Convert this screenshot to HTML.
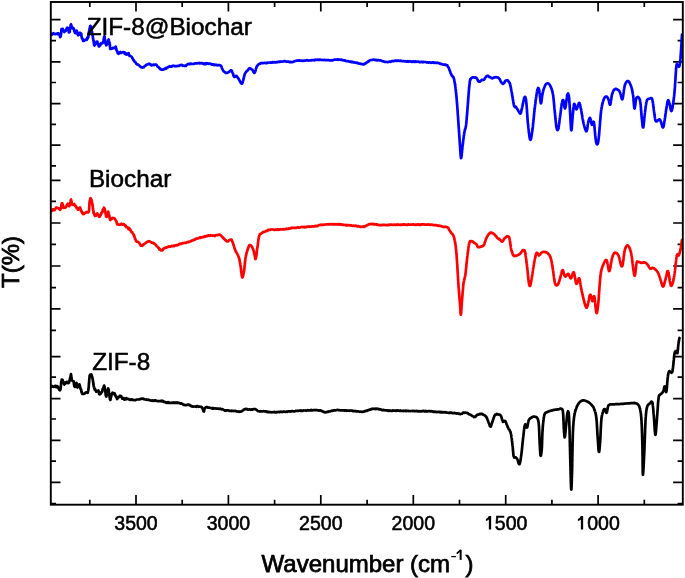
<!DOCTYPE html>
<html><head><meta charset="utf-8"><style>
html,body{margin:0;padding:0;background:#fff;}
body{width:685px;height:578px;overflow:hidden;font-family:"Liberation Sans",sans-serif;}
svg{display:block;will-change:transform;}
</style></head><body>
<svg width="685" height="578" viewBox="0 0 685 578"><defs><clipPath id="c"><rect x="50.8" y="2.0" width="632.0" height="502.7"/></clipPath></defs><path d="M50.8 19.6H60.5M682.8 19.6H673.1M50.8 40.7H56.0M682.8 40.7H677.6M50.8 61.8H60.5M682.8 61.8H673.1M50.8 82.5H56.0M682.8 82.5H677.6M50.8 103.6H60.5M682.8 103.6H673.1M50.8 124.4H56.0M682.8 124.4H677.6M50.8 145.2H60.5M682.8 145.2H673.1M50.8 165.9H56.0M682.8 165.9H677.6M50.8 180.3H60.5M682.8 180.3H673.1M50.8 201.4H56.0M682.8 201.4H677.6M50.8 223.0H60.5M682.8 223.0H673.1M50.8 244.3H56.0M682.8 244.3H677.6M50.8 266.0H60.5M682.8 266.0H673.1M50.8 287.6H56.0M682.8 287.6H677.6M50.8 308.9H60.5M682.8 308.9H673.1M50.8 330.4H56.0M682.8 330.4H677.6M50.8 356.7H60.5M682.8 356.7H673.1M50.8 377.1H56.0M682.8 377.1H677.6M50.8 398.7H60.5M682.8 398.7H673.1M50.8 419.0H56.0M682.8 419.0H677.6M50.8 440.3H60.5M682.8 440.3H673.1M50.8 461.2H56.0M682.8 461.2H677.6M50.8 482.3H60.5M682.8 482.3H673.1M50.8 503.6H56.0M682.8 503.6H677.6M89.8 504.7V499.7M89.8 2.0V7.0M136.0 504.7V495.1M136.0 2.0V11.6M182.2 504.7V499.7M182.2 2.0V7.0M228.4 504.7V495.1M228.4 2.0V11.6M274.6 504.7V499.7M274.6 2.0V7.0M320.8 504.7V495.1M320.8 2.0V11.6M367.1 504.7V499.7M367.1 2.0V7.0M413.3 504.7V495.1M413.3 2.0V11.6M459.5 504.7V499.7M459.5 2.0V7.0M505.7 504.7V495.1M505.7 2.0V11.6M551.9 504.7V499.7M551.9 2.0V7.0M598.1 504.7V495.1M598.1 2.0V11.6M644.3 504.7V499.7M644.3 2.0V7.0" stroke="#000" stroke-width="1.70" fill="none"/>
<g clip-path="url(#c)" fill="none" stroke-width="2.70" stroke-linejoin="round" stroke-linecap="round">
<path d="M50.8 35.0L51.2 34.0L51.7 34.8L52.3 34.2L52.9 33.5L53.6 33.2L54.4 34.0L55.1 34.2L55.8 33.9L56.6 33.9L57.3 33.5L57.9 34.2L58.5 33.4L59.1 34.6L59.6 34.6L60.1 37.1L60.6 36.4L60.7 36.0L60.8 36.1L60.9 34.2L61.0 34.3L61.1 34.0L61.2 32.4L61.3 32.9L61.3 32.1L61.4 29.8L61.5 29.2L61.6 29.6L61.7 29.1L62.8 28.8L63.1 30.1L63.3 29.8L63.6 30.4L63.9 31.4L64.2 32.0L64.7 31.2L65.2 31.1L65.7 30.9L66.0 30.2L66.4 29.5L66.8 28.2L67.1 27.7L67.5 28.0L67.8 27.8L68.0 29.0L68.3 29.6L68.5 30.1L68.8 32.4L69.1 32.4L69.3 32.4L69.4 32.4L69.6 31.2L69.7 32.1L69.8 31.2L69.9 29.2L70.0 28.8L70.2 28.7L70.3 27.8L70.4 27.5L70.5 25.9L70.6 26.0L70.7 25.3L70.8 24.7L71.1 24.3L71.3 25.6L71.6 27.2L71.9 27.3L72.4 28.3L72.9 27.8L73.4 28.4L73.6 29.0L73.8 28.7L74.1 29.8L74.3 31.5L74.5 31.6L74.8 31.8L75.0 32.9L75.2 33.1L75.6 33.2L75.9 32.2L76.3 30.7L76.6 30.6L76.8 30.8L77.0 31.5L77.2 32.7L77.3 33.0L77.5 33.6L77.7 34.4L77.9 34.2L78.1 35.3L78.5 34.3L78.9 34.7L79.2 34.2L79.6 32.8L80.3 32.9L81.0 33.5L81.1 33.7L81.3 33.8L81.4 35.1L81.5 36.6L81.6 36.9L81.8 37.2L81.9 38.3L82.1 38.2L82.4 38.4L82.8 39.6L83.1 40.9L83.5 40.7L83.9 40.8L84.5 40.7L85.1 39.9L85.8 39.7L86.2 39.4L86.7 39.8L87.2 37.7L87.6 38.5L88.0 37.2L88.2 37.3L88.3 36.9L88.4 36.0L88.6 35.4L88.7 34.2L88.8 33.6L88.9 32.6L89.1 31.2L89.2 32.0L89.3 30.9L89.4 30.2L89.6 28.8L89.7 28.5L89.9 27.6L90.0 26.6L90.2 26.0L90.3 25.9L90.5 25.8L90.6 26.2L90.8 26.5L90.9 26.6L91.1 26.4L91.2 27.4L91.4 28.1L91.5 29.6L91.7 30.8L91.9 31.5L92.0 31.7L92.1 32.8L92.2 33.4L92.3 33.0L92.4 34.7L92.5 35.1L92.6 34.7L92.7 35.2L92.8 35.9L92.9 37.9L93.0 37.6L93.1 38.0L93.2 39.5L93.3 39.6L93.4 40.4L93.5 40.5L93.7 41.5L93.8 43.0L93.9 43.1L94.0 44.0L94.2 45.3L94.3 45.2L94.5 45.5L94.8 45.1L95.1 45.0L95.5 43.5L95.8 43.4L96.2 42.8L96.5 41.7L96.7 41.9L97.2 42.0L97.4 41.7L97.6 43.7L97.9 43.7L98.2 43.9L98.5 45.3L98.8 46.3L99.1 45.3L99.4 46.4L99.7 45.4L100.0 45.1L100.3 45.4L100.6 43.7L100.9 43.9L101.2 43.1L101.8 43.3L102.4 43.3L103.0 42.8L103.2 41.9L103.3 42.6L103.4 41.6L103.6 40.3L103.7 38.9L103.8 38.9L104.0 37.7L104.1 37.4L104.2 36.5L104.3 36.6L104.4 36.9L104.6 36.3L104.7 37.3L104.8 39.3L104.9 40.0L105.1 39.8L105.2 40.9L105.3 42.2L105.5 42.0L105.7 43.9L105.8 44.3L106.0 44.3L106.1 44.5L106.3 45.3L106.9 44.2L107.4 43.9L107.6 44.0L107.8 41.7L108.0 42.2L108.1 41.7L108.3 40.3L108.5 39.9L108.7 39.4L109.0 41.1L109.2 41.9L109.4 42.3L109.6 42.8L109.7 43.3L109.8 43.7L109.8 44.3L109.9 44.8L109.9 46.4L110.0 46.7L110.0 47.0L110.1 47.4L110.2 48.9L110.3 49.0L111.0 48.9L111.8 48.6L112.4 48.4L113.0 47.8L113.6 47.9L114.2 48.2L114.8 47.9L115.4 47.2L115.7 46.7L116.0 47.7L116.3 48.6L116.6 50.6L116.9 50.4L117.1 51.6L117.3 51.5L117.5 52.0L117.7 53.4L118.0 53.4L118.5 53.9L119.1 53.5L119.8 52.3L120.4 51.9L121.1 52.9L121.8 52.6L122.4 52.3L123.3 52.1L124.2 52.3L124.6 53.5L125.1 52.7L125.5 54.2L126.0 53.5L126.4 54.5L127.0 53.6L127.6 54.4L128.2 53.4L128.6 53.2L128.9 54.6L129.3 55.0L129.6 56.0L130.0 55.9L130.5 56.1L131.1 56.4L131.6 56.8L132.2 57.7L132.5 58.4L132.8 58.7L133.1 59.6L133.5 60.1L133.8 60.1L134.1 61.0L134.4 61.4L134.8 61.7L135.3 62.2L135.7 62.7L136.2 63.8L136.6 63.9L137.1 64.5L137.7 64.7L138.2 64.6L138.8 65.0L139.2 65.5L139.7 66.1L140.1 66.3L140.6 66.9L141.0 67.2L141.6 67.3L142.2 67.4L142.8 67.6L143.3 67.1L143.8 67.2L144.3 66.4L145.0 65.8L145.5 65.8L146.1 65.0L146.7 64.5L147.3 64.5L147.9 64.3L148.5 63.9L149.1 63.6L149.7 64.3L150.2 64.1L150.8 64.5L151.4 65.4L152.0 65.2L152.7 64.8L153.4 64.7L154.2 65.1L154.9 64.5L155.5 64.6L156.1 64.6L156.6 65.0L157.0 65.6L157.5 66.6L158.1 66.9L158.6 67.0L159.1 68.1L159.6 68.1L160.1 69.0L160.6 69.4L161.1 69.2L161.6 69.6L162.3 69.6L162.9 69.7L163.5 69.2L164.3 69.2L164.8 69.1L165.3 68.4L165.8 68.0L166.4 68.5L167.0 67.6L167.6 67.5L168.1 67.1L168.7 66.9L169.3 66.5L169.9 66.2L170.5 66.7L171.1 66.6L171.7 66.5L172.3 65.8L173.0 66.0L173.6 65.7L174.3 66.0L175.0 66.4L175.8 66.0L176.5 66.2L177.1 66.2L177.8 65.8L178.3 66.0L179.1 65.9L179.7 65.4L180.2 65.1L180.9 65.2L181.4 64.9L182.1 65.1L182.7 65.8L183.4 65.5L184.1 65.8L184.7 65.9L185.3 65.7L185.9 65.9L186.5 65.1L187.0 64.7L187.5 64.3L188.1 64.0L188.8 63.9L189.4 64.1L189.9 64.1L190.5 63.6L191.2 63.7L191.8 63.9L192.5 64.0L193.3 64.0L194.0 63.9L194.6 63.6L195.2 63.4L195.9 63.5L196.6 63.3L197.3 63.5L197.9 63.1L198.6 63.0L199.3 63.3L199.9 63.0L200.5 63.3L201.0 63.1L201.8 63.2L202.5 63.6L203.0 63.2L203.5 63.7L204.0 64.1L204.6 63.9L205.3 63.5L205.8 64.1L206.5 63.2L207.2 63.6L208.1 63.4L208.6 63.9L209.2 63.8L209.8 63.6L210.4 63.6L211.1 64.1L211.8 64.6L212.5 64.3L213.1 64.9L213.8 64.5L214.4 65.2L215.0 65.0L215.8 64.7L216.5 64.9L217.2 65.3L217.9 65.2L218.6 65.2L219.2 65.2L219.8 65.2L220.3 65.3L220.7 65.8L221.1 65.9L221.4 66.7L221.6 67.1L221.9 68.2L222.1 68.8L222.4 69.1L222.7 69.5L223.0 70.3L223.5 71.2L224.0 71.6L224.5 71.8L225.0 72.2L225.5 72.8L226.0 72.7L226.5 72.9L227.2 72.9L227.9 72.6L228.5 72.2L229.1 72.0L229.7 71.1L230.2 71.0L230.7 70.4L231.2 70.3L231.6 70.7L231.9 71.0L232.2 72.0L232.6 72.9L232.8 73.2L233.1 73.9L233.3 74.6L233.5 75.7L233.8 76.0L234.0 76.5L234.3 76.9L234.9 76.9L235.4 76.0L236.1 75.9L236.5 75.9L236.9 76.6L237.3 77.1L237.8 77.8L238.3 78.3L238.7 79.0L239.0 79.7L239.4 80.4L239.7 80.8L240.1 81.7L240.5 82.3L240.8 82.8L241.1 83.3L241.4 83.6L241.8 83.6L242.1 83.5L242.5 82.8L242.8 81.6L243.1 80.8L243.2 80.4L243.4 79.6L243.5 79.0L243.6 78.7L243.8 78.3L243.9 77.2L244.0 76.9L244.2 76.3L244.3 75.4L244.5 75.0L244.7 74.5L244.9 73.8L245.2 73.1L245.6 72.7L246.0 72.2L246.4 71.5L246.9 71.2L247.3 70.7L247.7 70.4L248.1 69.8L248.4 69.4L249.1 68.5L249.5 68.3L250.1 68.5L250.6 68.5L251.1 69.0L251.7 69.5L252.2 69.6L252.7 70.3L253.1 71.0L253.4 71.9L253.8 72.4L254.1 73.0L254.5 72.9L254.7 72.4L254.9 72.4L255.1 71.4L255.3 71.4L255.5 70.6L255.7 69.8L255.9 68.9L256.1 68.5L256.4 67.8L256.6 66.7L256.8 66.5L257.1 65.9L257.6 65.5L258.1 64.8L258.6 64.4L259.1 63.9L259.6 63.9L260.1 63.7L260.6 63.2L261.3 62.9L261.8 63.2L262.5 63.1L263.5 63.1L264.0 62.9L264.5 62.9L265.1 62.8L265.7 63.2L266.4 63.2L267.1 62.6L267.8 62.9L268.5 62.7L269.2 62.5L269.8 62.5L270.5 62.6L271.1 62.4L271.8 62.7L272.4 62.2L273.0 62.2L273.7 62.4L274.3 62.1L275.0 62.4L275.6 62.3L276.2 62.4L276.9 62.0L277.5 62.1L278.1 61.9L278.8 62.0L279.4 61.7L280.1 61.8L280.7 61.5L281.4 61.6L282.0 61.6L282.6 61.5L283.3 61.5L283.9 61.2L284.5 61.2L285.2 61.2L285.8 61.5L286.4 61.6L287.0 61.6L287.7 61.6L288.3 61.7L288.9 61.7L289.5 62.2L290.1 61.9L290.7 62.1L291.3 62.2L291.9 62.0L292.5 62.1L293.1 61.8L293.7 61.7L294.3 61.1L294.9 61.1L295.5 61.0L296.2 60.7L296.8 60.7L297.4 60.7L298.0 60.5L298.6 60.6L299.2 60.3L299.8 60.6L300.4 60.6L301.1 60.6L301.7 60.6L302.4 60.9L303.1 60.8L303.8 60.7L304.4 60.7L305.0 60.7L305.6 60.5L306.2 60.4L306.8 60.2L307.5 60.3L308.1 60.5L308.7 60.6L309.4 60.5L310.0 60.3L310.7 60.5L311.3 60.2L312.0 60.3L312.6 60.1L313.2 60.0L313.8 60.2L314.4 60.3L315.0 59.9L315.6 59.7L316.2 60.0L316.8 59.9L317.5 59.8L318.1 59.5L318.7 59.8L319.3 59.8L320.0 59.7L320.6 60.0L321.3 59.8L321.9 59.9L322.5 60.0L323.1 60.1L323.8 60.0L324.5 59.9L325.2 60.1L325.8 60.1L326.5 60.1L327.2 60.1L327.9 60.0L328.5 60.2L329.2 60.2L329.8 60.4L330.3 60.4L330.9 60.4L331.4 60.4L331.8 60.2L332.9 60.3L333.6 60.0L334.1 59.7L334.6 59.5L335.3 59.5L335.9 59.6L336.5 59.7L337.1 59.5L337.7 59.3L338.4 59.8L339.1 59.6L339.8 59.7L340.6 59.8L341.2 59.6L341.7 60.0L342.3 60.2L342.9 60.2L343.6 60.3L344.2 60.6L344.9 60.3L345.5 60.8L346.2 61.2L346.9 61.2L347.6 61.2L348.2 61.2L348.8 61.5L349.4 61.6L350.0 61.5L350.7 61.6L351.3 62.1L352.0 61.9L352.7 61.9L353.3 62.4L354.0 62.4L354.6 62.4L355.2 62.6L355.8 62.8L356.4 62.8L357.1 62.7L357.8 63.2L358.5 63.4L359.2 63.7L359.9 63.5L360.6 63.9L361.2 63.8L361.8 64.1L362.4 64.0L362.9 64.4L363.4 64.2L364.2 64.3L364.8 63.7L365.4 63.3L365.9 63.3L366.4 62.8L366.9 62.3L367.5 62.1L368.1 61.3L368.6 61.4L369.2 60.9L369.8 60.3L370.4 60.2L371.1 60.0L371.7 60.0L372.3 60.0L373.0 59.6L373.9 59.8L374.4 59.9L374.9 59.7L375.5 60.2L376.1 59.9L376.7 60.3L377.3 60.2L378.0 60.3L378.7 60.1L379.3 60.4L380.0 60.5L380.6 60.4L381.2 60.5L381.7 61.0L382.4 61.0L383.0 61.4L383.6 61.3L384.2 61.7L384.9 61.9L385.5 61.8L386.1 61.8L386.8 62.0L387.4 62.1L388.0 62.1L388.6 61.8L389.1 61.8L389.7 61.6L390.3 61.8L390.9 61.8L391.5 61.2L392.1 61.0L392.7 61.2L393.3 61.1L393.9 61.1L394.6 60.8L395.2 60.7L395.8 60.6L396.3 60.9L396.9 60.5L397.5 60.8L398.1 60.5L398.7 60.7L399.3 60.8L399.9 60.8L400.5 60.7L401.2 60.8L401.8 61.2L402.4 61.1L403.0 61.2L403.6 61.0L404.2 61.2L404.8 61.4L405.4 61.2L406.0 61.3L406.6 61.6L407.2 61.6L407.8 61.1L408.4 61.6L409.0 61.6L409.6 61.3L410.2 61.4L410.8 61.5L411.4 61.8L412.0 61.5L412.6 61.8L413.2 61.6L413.8 61.8L414.4 61.5L415.0 61.9L415.6 61.4L416.2 61.6L416.8 61.9L417.4 61.6L418.0 61.8L418.6 61.7L419.2 61.9L419.8 62.2L420.4 62.2L421.0 61.8L421.6 61.8L422.2 62.1L422.8 62.3L423.4 61.9L424.0 62.0L424.7 62.0L425.3 62.0L425.9 62.0L426.5 62.4L427.2 62.5L427.8 62.4L428.4 62.6L429.0 62.5L429.5 62.3L430.1 62.5L430.7 62.8L431.2 62.5L431.9 62.6L432.6 62.4L433.3 62.3L433.9 62.9L434.5 62.7L435.1 62.6L435.7 62.8L436.3 62.8L436.8 62.9L437.4 62.7L437.9 63.0L438.7 63.1L439.3 63.3L440.0 63.3L440.6 64.0L441.2 63.9L441.8 64.2L442.4 64.3L443.1 64.6L443.7 64.6L444.4 64.7L445.1 64.8L445.8 64.6L446.4 65.2L446.9 65.2L447.3 65.3L447.7 66.4L448.0 66.9L448.3 67.5L448.6 67.5L448.9 68.2L449.2 69.2L449.4 69.9L449.6 70.2L449.9 70.8L450.1 71.8L450.3 71.8L450.5 72.7L450.7 73.3L451.0 73.6L451.2 74.3L451.4 74.9L451.8 75.7L452.2 76.2L452.6 76.0L453.0 76.8L453.4 77.1L453.7 78.2L453.8 78.8L454.0 78.8L454.1 79.2L454.2 79.9L454.3 80.7L454.4 80.9L454.5 81.4L454.6 82.4L454.8 83.1L454.9 83.7L455.0 84.0L455.1 84.8L455.2 85.4L455.3 86.4L455.4 87.2L455.5 87.6L455.5 88.1L455.6 88.9L455.7 89.5L455.7 89.8L455.8 90.0L455.8 90.9L455.9 91.3L456.0 92.2L456.0 92.6L456.1 93.3L456.1 93.8L456.2 94.3L456.3 95.1L456.3 95.7L456.4 96.0L456.5 96.5L456.5 97.3L456.6 98.1L456.6 98.5L456.7 99.3L456.8 100.2L456.8 100.5L456.9 101.8L456.9 102.4L457.0 103.0L457.0 103.4L457.1 103.9L457.1 104.5L457.2 105.0L457.2 105.9L457.3 106.3L457.3 106.9L457.3 107.2L457.4 108.3L457.4 108.5L457.5 109.1L457.5 109.6L457.6 110.8L457.6 111.1L457.7 112.0L457.7 112.7L457.7 113.3L457.8 113.9L457.8 114.6L457.9 115.2L457.9 115.8L458.0 116.0L458.0 116.9L458.1 117.5L458.1 118.5L458.1 119.0L458.2 119.5L458.2 120.2L458.3 120.6L458.3 121.6L458.4 122.0L458.4 122.5L458.4 123.1L458.5 124.1L458.5 124.4L458.6 124.7L458.6 125.5L458.6 125.9L458.7 126.9L458.7 127.5L458.8 128.4L458.8 128.5L458.9 129.4L458.9 130.2L459.0 130.4L459.0 131.1L459.0 132.1L459.1 132.5L459.1 133.1L459.2 133.8L459.2 134.7L459.3 135.3L459.3 135.6L459.4 136.2L459.4 137.4L459.4 137.9L459.5 138.2L459.5 139.3L459.6 139.3L459.6 140.1L459.6 141.1L459.7 141.5L459.7 141.8L459.8 142.8L459.8 143.2L459.8 143.9L459.9 144.4L459.9 144.6L460.0 145.3L460.0 145.7L460.1 146.6L460.1 147.7L460.2 148.4L460.2 149.2L460.3 150.1L460.3 151.1L460.4 151.4L460.4 152.2L460.5 153.4L460.5 154.1L460.6 154.7L460.6 155.3L460.7 155.8L460.8 156.7L460.8 157.1L460.9 157.4L460.9 157.3L461.0 158.1L461.0 158.0L461.1 158.1L461.2 157.8L461.2 157.7L461.3 157.7L461.4 156.9L461.4 156.5L461.5 156.1L461.6 155.9L461.7 155.2L461.7 154.6L461.8 153.5L461.9 152.8L462.0 152.0L462.0 151.1L462.1 150.3L462.2 149.7L462.3 149.0L462.4 147.8L462.4 147.2L462.5 146.2L462.6 145.7L462.7 145.0L462.8 144.5L462.8 143.9L462.9 143.3L463.0 142.9L463.1 141.7L463.2 141.3L463.2 140.9L463.3 140.1L463.4 139.3L463.5 138.5L463.6 137.9L463.7 137.6L463.7 136.9L463.8 136.1L463.9 135.7L464.0 135.1L464.1 134.5L464.2 133.6L464.2 133.2L464.3 132.9L464.4 132.2L464.6 131.3L464.7 130.9L464.9 130.2L465.0 129.6L465.1 129.3L465.3 128.7L465.4 128.4L465.6 127.9L465.7 127.0L465.9 126.3L466.0 125.5L466.1 124.9L466.1 124.9L466.2 124.2L466.2 123.6L466.3 123.6L466.3 122.5L466.4 122.2L466.4 121.8L466.5 121.2L466.5 120.5L466.6 120.1L466.6 119.3L466.7 118.9L466.7 118.1L466.8 117.8L466.8 117.0L466.9 115.9L466.9 115.3L467.0 115.2L467.1 114.1L467.1 113.3L467.2 112.7L467.2 112.2L467.3 111.9L467.3 110.8L467.4 110.4L467.4 109.8L467.5 108.6L467.5 108.3L467.6 107.5L467.6 107.3L467.7 106.4L467.7 105.8L467.8 105.1L467.8 104.9L467.9 104.3L467.9 103.0L468.0 102.7L468.0 101.9L468.1 101.4L468.1 100.4L468.2 99.8L468.2 99.1L468.3 98.6L468.3 98.1L468.4 97.5L468.4 96.8L468.5 96.0L468.5 94.9L468.6 94.5L468.6 94.0L468.7 93.1L468.7 92.6L468.8 92.2L468.8 91.0L468.9 90.9L468.9 89.8L469.0 89.4L469.0 89.2L469.1 88.1L469.1 87.8L469.2 87.2L469.2 87.1L469.3 86.6L469.3 85.7L469.4 85.4L469.4 85.0L469.6 84.0L469.7 82.8L469.8 81.6L469.9 81.3L470.0 80.4L470.2 80.0L470.3 79.2L470.5 79.5L470.7 78.9L470.9 78.8L471.2 78.2L471.7 78.1L472.3 77.4L472.9 77.4L473.6 77.3L474.3 77.5L475.0 77.7L475.6 77.4L476.1 77.8L476.6 78.0L477.0 78.9L477.3 79.4L477.7 79.9L478.0 80.6L478.3 81.4L478.7 81.6L479.2 81.7L479.8 81.7L480.5 81.0L481.1 80.6L481.6 79.9L482.1 79.9L482.9 80.0L483.8 79.9L484.1 79.4L484.5 79.2L484.9 78.3L485.4 77.6L485.8 77.0L486.3 76.5L486.8 76.0L487.3 75.9L487.8 76.0L488.4 75.9L488.9 76.7L489.5 77.0L490.1 77.3L490.6 77.4L491.1 77.9L491.6 78.2L492.4 78.3L493.0 78.0L493.6 77.8L494.2 77.3L494.8 77.5L495.5 77.0L496.1 77.2L496.8 77.3L497.3 77.4L497.8 77.5L498.4 77.8L498.9 78.3L499.4 79.0L499.7 79.2L500.1 80.0L500.4 80.8L500.8 81.4L501.1 82.1L501.4 82.4L501.7 82.8L502.0 83.4L502.9 83.9L503.7 83.4L504.1 83.3L504.5 82.4L504.9 81.4L505.4 80.8L505.8 80.5L506.3 80.4L506.8 80.5L507.3 80.2L507.9 80.5L508.4 81.3L508.9 82.1L509.4 82.5L509.6 82.8L509.7 83.4L509.9 83.8L510.1 84.0L510.2 84.7L510.3 85.2L510.5 85.8L510.6 86.8L510.8 87.4L510.9 87.7L511.0 88.4L511.2 89.7L511.3 90.0L511.5 91.1L511.6 91.5L511.7 92.0L511.8 92.4L511.9 93.0L512.0 93.7L512.1 94.6L512.2 95.7L512.4 96.2L512.5 96.6L512.6 97.6L512.7 98.1L512.8 98.9L512.9 99.5L513.1 100.7L513.2 100.9L513.3 101.9L513.4 102.4L513.5 103.2L513.6 103.6L513.7 104.3L513.8 104.5L513.9 105.2L514.0 105.5L514.1 105.8L514.7 107.0L515.2 106.7L515.8 106.7L516.1 107.1L516.4 107.6L516.7 108.2L517.1 108.8L517.4 109.4L517.8 109.9L518.1 110.5L518.4 111.0L518.9 111.7L519.3 112.5L519.7 113.2L520.1 113.6L520.5 113.6L520.7 113.3L520.9 112.9L521.0 112.5L521.2 111.9L521.3 111.1L521.5 110.2L521.7 109.4L521.9 108.4L522.0 108.0L522.1 107.4L522.3 106.8L522.4 106.2L522.5 105.5L522.7 104.8L522.8 103.9L523.0 103.3L523.1 102.6L523.3 101.8L523.4 101.2L523.6 100.4L523.7 99.9L523.8 99.1L524.0 98.7L524.1 98.2L524.3 97.7L524.4 97.5L524.5 97.2L524.8 96.8L525.0 96.9L525.3 97.0L525.5 97.6L525.7 98.4L526.0 99.8L526.2 101.5L526.2 101.8L526.3 102.3L526.3 102.8L526.4 103.2L526.4 103.6L526.5 104.3L526.5 104.8L526.6 105.3L526.6 105.8L526.7 106.5L526.7 107.2L526.8 107.7L526.8 108.4L526.9 109.0L526.9 109.6L527.0 110.4L527.0 111.0L527.0 111.7L527.1 112.3L527.1 113.1L527.2 113.7L527.2 114.5L527.3 115.1L527.3 115.8L527.4 116.5L527.4 117.2L527.5 117.9L527.5 118.6L527.6 119.2L527.6 120.0L527.7 120.6L527.7 121.2L527.8 121.8L527.8 122.4L527.9 122.9L527.9 123.5L528.0 124.0L528.1 124.7L528.2 125.5L528.2 126.2L528.3 126.9L528.4 127.9L528.5 128.7L528.6 129.3L528.7 130.2L528.7 130.8L528.8 131.6L528.9 132.5L529.0 133.1L529.1 133.6L529.2 134.4L529.3 135.0L529.3 135.6L529.4 136.3L529.5 136.8L529.6 137.4L529.7 137.8L529.8 138.2L529.9 138.5L529.9 139.0L530.0 139.3L530.1 139.4L530.2 139.6L530.4 139.8L530.5 139.8L530.6 139.6L530.8 139.4L530.9 139.0L531.1 138.3L531.2 137.8L531.4 137.0L531.5 136.2L531.7 135.1L531.8 134.3L532.0 133.1L532.1 132.0L532.3 130.9L532.4 130.6L532.4 130.1L532.5 129.6L532.5 129.1L532.6 128.6L532.7 128.0L532.7 127.6L532.8 127.0L532.9 126.3L532.9 125.8L533.0 125.2L533.0 124.6L533.1 124.0L533.2 123.4L533.2 122.6L533.3 122.0L533.4 121.3L533.4 120.6L533.5 119.9L533.6 119.3L533.6 118.7L533.7 118.0L533.8 117.4L533.8 116.6L533.9 115.9L534.0 115.4L534.0 114.7L534.1 114.0L534.2 113.2L534.2 112.6L534.3 112.0L534.4 111.4L534.4 110.8L534.5 110.1L534.6 109.5L534.6 108.8L534.7 108.4L534.8 107.9L534.8 107.3L534.9 106.7L535.0 106.0L535.1 105.2L535.2 104.5L535.3 103.9L535.4 103.2L535.5 102.5L535.5 101.6L535.6 100.9L535.7 100.2L535.8 99.5L535.9 98.9L536.0 98.2L536.1 97.5L536.2 96.9L536.3 96.2L536.4 95.6L536.5 94.9L536.6 94.3L536.7 93.8L536.8 93.1L536.8 92.7L536.9 92.1L537.0 91.7L537.1 91.3L537.2 90.8L537.3 90.5L537.3 90.0L537.4 89.6L537.5 89.4L538.1 88.0L538.7 88.4L539.2 90.3L539.3 90.6L539.4 91.1L539.4 91.7L539.5 92.5L539.6 93.1L539.7 93.8L539.8 94.6L539.8 95.4L539.9 96.3L540.0 97.1L540.1 97.8L540.2 98.7L540.2 99.5L540.3 100.2L540.4 101.0L540.5 101.5L540.6 102.0L540.7 102.6L540.7 103.0L540.8 103.2L540.9 103.3L541.0 103.3L541.1 103.2L541.2 102.8L541.3 102.3L541.4 101.8L541.5 101.2L541.6 100.5L541.7 99.8L541.8 98.9L541.9 98.1L542.0 97.3L542.1 96.4L542.2 95.7L542.3 94.9L542.5 94.1L542.6 93.5L542.7 92.9L542.9 92.3L543.1 91.5L543.2 90.8L543.4 90.1L543.6 89.4L543.8 88.8L544.1 88.0L544.3 87.6L544.5 86.9L544.7 86.5L544.9 85.9L545.1 85.5L545.3 85.1L545.8 84.3L546.3 83.7L546.9 83.5L547.4 83.3L547.9 83.4L548.3 83.5L548.7 83.7L549.1 84.0L549.6 84.6L550.0 85.3L550.4 86.0L550.6 86.4L550.8 86.9L551.0 87.2L551.2 87.8L551.4 88.2L551.5 88.8L551.7 89.3L551.9 90.1L552.1 90.6L552.3 91.3L552.5 92.0L552.7 92.9L552.8 93.7L553.0 94.6L553.1 95.1L553.2 95.6L553.2 96.0L553.3 96.5L553.4 97.3L553.4 97.7L553.5 98.4L553.6 99.1L553.6 99.6L553.7 100.1L553.8 100.9L553.8 101.5L553.9 102.1L554.0 102.7L554.0 103.5L554.1 104.1L554.1 104.9L554.2 105.5L554.3 106.2L554.3 106.8L554.4 107.6L554.4 108.1L554.5 108.9L554.6 109.4L554.6 110.0L554.7 110.6L554.7 111.2L554.8 111.9L554.9 112.6L554.9 113.2L555.0 113.9L555.1 114.6L555.1 115.2L555.2 115.9L555.3 116.6L555.3 117.4L555.4 118.0L555.5 118.7L555.5 119.4L555.6 120.1L555.7 120.7L555.7 121.3L555.8 121.9L555.9 122.7L555.9 123.1L556.0 123.8L556.0 124.3L556.1 124.8L556.2 125.3L556.2 126.0L556.3 126.3L556.4 126.9L556.4 127.2L556.5 127.5L556.9 129.1L557.3 130.1L557.8 130.0L558.2 129.2L558.3 128.9L558.4 128.5L558.5 128.3L558.6 127.7L558.6 127.1L558.7 126.6L558.8 126.0L558.9 125.3L559.0 124.7L559.1 124.2L559.2 123.5L559.3 122.8L559.4 121.9L559.5 121.4L559.5 120.5L559.6 119.9L559.7 119.0L559.8 118.3L559.9 117.8L560.0 117.1L560.1 116.5L560.2 115.8L560.2 115.3L560.3 114.7L560.4 114.0L560.5 113.3L560.6 112.7L560.7 112.0L560.8 111.4L560.8 110.6L560.9 109.9L561.0 109.4L561.1 108.6L561.2 108.1L561.2 107.4L561.3 106.9L561.4 106.2L561.5 105.6L561.6 105.2L561.6 104.6L561.7 104.1L561.8 103.8L562.1 102.5L562.3 101.5L562.5 100.5L562.8 100.2L563.0 100.0L563.3 100.1L563.4 100.4L563.5 100.8L563.7 101.6L563.8 102.3L563.9 103.1L564.0 103.9L564.2 104.9L564.3 105.6L564.4 106.7L564.5 107.2L564.7 107.8L564.8 108.3L565.0 108.5L565.1 108.4L565.2 108.2L565.3 108.0L565.4 107.6L565.5 107.2L565.6 106.6L565.7 106.0L565.8 105.5L565.9 104.6L566.0 103.9L566.1 103.1L566.2 102.3L566.3 101.7L566.4 100.7L566.5 99.9L566.6 99.2L566.7 98.5L566.8 97.9L566.9 97.2L567.0 96.6L567.0 96.0L567.1 95.3L567.2 94.9L567.3 94.7L568.1 93.4L568.8 95.6L568.9 96.0L568.9 96.3L569.0 96.9L569.0 97.2L569.1 97.7L569.1 98.3L569.2 98.7L569.2 99.3L569.2 100.1L569.3 100.5L569.3 101.1L569.4 101.8L569.4 102.6L569.5 103.2L569.5 103.9L569.6 104.6L569.6 105.4L569.7 106.1L569.7 106.8L569.8 107.6L569.8 108.4L569.9 109.1L569.9 109.6L570.0 110.4L570.0 111.1L570.0 111.8L570.1 112.3L570.1 112.8L570.2 113.5L570.2 114.2L570.2 115.0L570.3 115.6L570.3 116.4L570.4 117.3L570.4 118.1L570.4 118.7L570.5 119.6L570.5 120.4L570.6 121.2L570.6 121.9L570.6 122.8L570.7 123.3L570.7 124.0L570.8 124.7L570.8 125.5L570.8 126.0L570.9 126.7L570.9 127.3L571.0 127.8L571.0 128.5L571.0 128.8L571.1 129.3L571.1 129.6L571.2 129.8L571.2 130.2L571.3 130.1L571.3 130.3L571.4 130.4L571.4 130.1L571.5 130.0L571.5 129.8L571.6 129.3L571.6 129.0L571.7 128.4L571.8 128.0L571.8 127.2L571.9 126.6L571.9 125.8L572.0 125.1L572.0 124.4L572.1 123.6L572.2 122.7L572.2 122.0L572.3 121.0L572.3 120.2L572.4 119.5L572.5 118.6L572.5 118.0L572.6 117.2L572.6 116.5L572.7 115.7L572.7 115.1L572.8 114.7L572.9 113.9L573.0 113.2L573.0 112.5L573.1 111.8L573.2 110.9L573.2 110.2L573.3 109.3L573.4 108.5L573.5 107.9L573.5 107.3L573.6 106.7L573.7 106.2L573.8 105.6L573.8 105.0L573.9 104.6L574.0 104.3L574.1 104.0L574.2 103.8L574.4 103.8L574.6 104.2L574.9 104.9L575.1 105.8L575.3 106.8L575.6 107.8L575.9 108.6L576.1 109.1L576.4 109.3L576.6 109.1L576.9 108.8L577.1 108.1L577.4 107.3L577.7 106.4L578.0 105.6L578.2 104.7L578.5 104.0L578.7 103.5L579.0 103.0L579.2 102.9L579.4 103.0L579.6 103.2L579.7 103.6L579.9 104.0L580.0 104.5L580.2 105.1L580.3 105.8L580.5 106.7L580.6 107.4L580.8 108.4L581.0 109.3L581.1 109.6L581.2 110.3L581.3 110.8L581.4 111.3L581.5 111.8L581.6 112.5L581.7 113.2L581.8 113.9L581.9 114.6L582.1 115.1L582.2 115.8L582.3 116.5L582.4 117.4L582.5 118.0L582.6 118.5L582.8 119.3L582.9 120.0L583.0 120.6L583.1 121.1L583.2 121.9L583.4 122.4L583.5 122.8L583.6 123.5L583.7 123.9L583.9 124.7L584.1 125.6L584.4 126.4L584.6 127.2L584.8 128.0L585.0 128.7L585.3 129.3L585.5 130.0L585.7 130.3L585.9 130.7L586.1 131.2L586.3 131.2L586.5 131.2L586.6 131.1L586.8 130.8L586.9 130.3L587.1 129.8L587.2 129.1L587.3 128.4L587.4 127.8L587.5 127.0L587.6 126.2L587.7 125.2L587.8 124.6L588.0 123.7L588.1 123.1L588.2 122.5L588.3 122.0L588.6 120.9L588.8 120.1L589.1 119.4L589.3 118.8L589.6 118.2L589.8 117.9L590.1 118.0L590.3 118.3L590.4 118.7L590.6 119.3L590.8 120.1L590.9 120.8L591.1 121.6L591.2 122.5L591.4 123.2L591.6 124.0L591.7 124.5L591.9 124.8L592.3 124.6L592.7 123.5L593.0 122.3L593.4 121.6L593.8 122.0L593.9 122.2L593.9 122.6L594.0 123.0L594.1 123.4L594.1 124.0L594.2 124.6L594.3 125.1L594.4 125.9L594.4 126.6L594.5 127.1L594.6 127.7L594.6 128.5L594.7 129.4L594.8 130.2L594.8 130.7L594.9 131.5L595.0 132.4L595.0 133.0L595.1 133.7L595.2 134.4L595.2 135.1L595.3 135.8L595.4 136.4L595.4 137.0L595.5 137.5L595.5 138.0L595.6 138.5L595.8 139.6L595.9 140.8L596.1 141.6L596.2 142.5L596.4 143.1L596.5 143.6L596.7 144.0L596.8 144.1L597.0 144.3L597.2 144.2L597.3 144.3L597.5 144.2L597.6 143.8L597.8 143.4L598.0 143.0L598.1 142.1L598.3 141.3L598.5 140.1L598.7 138.5L598.7 138.0L598.8 137.8L598.8 137.2L598.9 136.7L598.9 136.3L599.0 135.8L599.0 135.3L599.1 134.7L599.1 134.2L599.2 133.6L599.2 132.9L599.3 132.3L599.3 131.8L599.4 131.0L599.4 130.5L599.5 129.8L599.5 129.0L599.6 128.3L599.6 127.6L599.7 126.9L599.8 126.2L599.8 125.4L599.9 124.8L599.9 124.0L600.0 123.4L600.0 122.7L600.1 122.1L600.1 121.3L600.2 120.6L600.3 120.0L600.3 119.2L600.4 118.5L600.4 117.8L600.5 117.3L600.5 116.7L600.6 116.0L600.6 115.3L600.7 114.6L600.8 114.0L600.8 113.7L600.9 113.1L600.9 112.5L601.0 112.1L601.0 111.7L601.1 111.1L601.2 110.2L601.4 109.2L601.5 108.4L601.6 107.5L601.8 106.8L601.9 106.1L602.0 105.3L602.2 104.7L602.3 104.1L602.4 103.6L602.6 103.2L602.7 102.6L602.8 102.0L603.0 101.6L603.1 101.2L603.3 100.7L603.4 100.2L603.5 100.0L603.7 99.5L603.8 99.2L604.3 98.2L604.7 97.3L605.2 97.0L605.7 96.6L606.1 96.5L606.5 96.5L606.9 96.7L607.3 97.1L607.7 97.8L608.0 98.5L608.4 99.2L608.6 99.8L608.8 100.4L609.0 101.3L609.2 102.3L609.4 103.3L609.6 104.0L609.8 104.4L610.0 104.7L610.2 104.7L610.3 104.6L610.4 104.2L610.5 103.8L610.6 103.3L610.7 102.6L610.8 101.9L610.9 101.2L611.0 100.3L611.2 99.5L611.3 98.9L611.4 97.9L611.5 97.2L611.6 96.5L611.7 96.0L611.9 95.2L612.0 94.7L612.2 93.9L612.5 93.3L612.7 92.5L613.0 91.8L613.2 91.2L613.5 90.6L613.8 90.3L614.1 89.9L614.4 89.4L614.7 89.2L615.3 88.9L615.9 88.9L616.6 89.1L617.3 89.5L617.9 89.7L618.4 90.1L618.9 90.4L619.2 90.8L619.5 91.4L619.8 92.1L620.2 92.8L620.4 93.3L620.6 94.1L620.8 94.8L621.0 95.7L621.2 96.7L621.4 97.5L621.6 98.2L621.8 98.8L622.0 99.2L622.2 99.3L622.4 99.2L622.5 98.9L622.6 98.6L622.7 98.4L622.8 97.8L622.9 97.3L623.0 96.7L623.1 96.2L623.2 95.5L623.3 94.8L623.4 94.2L623.5 93.4L623.6 92.7L623.7 91.8L623.8 91.2L623.9 90.3L624.0 89.6L624.1 88.9L624.2 88.3L624.3 87.6L624.5 87.1L624.6 86.3L624.7 85.9L624.8 85.5L625.1 84.5L625.4 83.6L625.8 82.9L626.1 82.3L626.5 81.9L626.9 81.4L627.2 81.1L627.6 81.0L627.9 81.0L628.3 81.2L628.7 81.4L629.0 81.9L629.4 82.4L629.8 83.2L630.1 83.9L630.5 84.6L630.8 85.5L631.0 85.9L631.1 86.4L631.3 86.9L631.5 87.5L631.6 88.1L631.8 88.5L631.9 89.1L632.1 89.8L632.2 90.4L632.3 91.2L632.5 91.7L632.6 92.5L632.7 93.2L632.9 94.1L633.0 94.7L633.1 95.2L633.2 95.9L633.2 96.4L633.3 97.2L633.4 98.1L633.5 98.7L633.5 99.5L633.6 100.4L633.6 101.2L633.7 102.0L633.8 102.8L633.8 103.6L633.9 104.2L634.0 104.9L634.0 105.6L634.1 106.3L634.2 106.8L634.2 107.4L634.3 107.7L634.4 108.0L634.4 108.3L634.5 108.4L634.6 108.5L634.7 108.2L634.8 108.0L634.9 107.4L635.0 107.0L635.1 106.1L635.2 105.5L635.3 104.7L635.4 103.9L635.5 103.1L635.6 102.2L635.7 101.3L635.8 100.5L636.0 99.7L636.1 99.2L636.2 98.7L636.3 98.3L637.0 97.2L637.8 96.9L638.5 97.4L638.7 97.7L639.0 97.8L639.2 98.3L639.4 98.7L639.7 99.2L639.9 99.9L640.1 100.9L640.3 102.0L640.4 102.4L640.4 102.8L640.5 103.4L640.5 103.8L640.6 104.3L640.7 105.0L640.7 105.7L640.8 106.3L640.8 106.9L640.9 107.6L640.9 108.1L641.0 108.9L641.0 109.5L641.1 110.2L641.2 111.1L641.2 111.6L641.3 112.4L641.3 113.0L641.4 113.8L641.4 114.5L641.5 114.9L641.5 115.6L641.6 116.4L641.6 116.8L641.7 117.3L641.7 118.0L641.8 118.4L641.9 119.3L642.0 120.1L642.1 121.1L642.2 122.0L642.3 122.8L642.4 123.7L642.4 124.4L642.5 125.3L642.6 126.0L642.7 126.5L642.8 127.0L642.9 127.3L643.0 127.4L643.1 127.5L643.2 127.5L643.3 127.5L643.3 127.0L643.4 126.8L643.5 126.4L643.5 126.0L643.6 125.5L643.7 124.9L643.7 124.4L643.8 123.6L643.9 123.0L644.0 122.1L644.0 121.6L644.1 120.7L644.2 120.0L644.2 119.2L644.3 118.4L644.4 117.7L644.5 117.0L644.5 116.1L644.6 115.4L644.7 114.9L644.8 114.1L644.8 113.4L644.9 112.9L645.0 112.3L645.1 111.6L645.2 110.7L645.3 110.1L645.3 109.3L645.4 108.7L645.5 108.0L645.6 107.3L645.7 106.5L645.8 106.0L645.9 105.2L646.0 104.7L646.1 104.0L646.2 103.6L646.3 102.8L646.4 102.3L646.5 101.9L646.6 101.6L646.7 101.1L647.1 100.1L647.5 99.5L648.0 99.1L648.5 98.9L648.9 98.8L649.4 98.7L650.1 98.4L650.9 98.1L651.6 98.2L652.2 99.2L652.3 99.5L652.4 99.9L652.5 100.5L652.6 100.9L652.7 101.4L652.8 102.1L652.9 102.5L653.0 103.2L653.1 104.0L653.2 104.5L653.2 105.1L653.3 105.8L653.4 106.5L653.5 107.3L653.6 107.9L653.7 108.6L653.7 109.2L653.8 109.9L653.9 110.5L654.0 111.1L654.1 111.9L654.2 112.5L654.3 113.3L654.4 114.0L654.5 114.8L654.6 115.4L654.7 116.2L654.8 116.9L654.9 117.6L655.0 118.3L655.1 118.9L655.2 119.4L655.3 120.1L655.5 120.5L655.6 120.8L655.8 121.1L656.3 121.5L657.0 121.2L657.6 120.6L658.3 120.0L659.0 119.4L659.5 119.3L659.9 119.6L660.2 120.1L660.5 120.8L660.8 121.4L661.0 122.2L661.3 123.0L661.5 123.5L661.7 124.4L662.0 125.2L662.2 126.1L662.4 126.9L662.7 127.4L662.9 127.5L663.1 127.5L663.2 127.4L663.3 127.0L663.4 126.6L663.6 126.3L663.7 125.8L663.8 125.2L663.9 124.7L664.0 124.1L664.1 123.2L664.2 122.5L664.3 121.7L664.5 121.0L664.6 120.2L664.8 119.2L664.9 118.4L665.0 117.9L665.1 117.5L665.2 117.0L665.2 116.3L665.3 115.7L665.4 115.1L665.5 114.3L665.6 113.6L665.7 113.0L665.8 112.2L665.9 111.6L666.0 110.8L666.1 110.1L666.2 109.4L666.4 108.6L666.5 107.9L666.6 107.2L666.7 106.6L666.8 106.0L666.9 105.4L667.0 104.7L667.1 104.0L667.2 103.5L667.3 103.0L667.4 102.6L667.4 102.1L667.5 101.8L667.6 101.5L667.7 101.1L668.1 100.2L668.5 100.4L668.8 101.5L669.2 102.6L669.5 103.8L669.7 104.4L669.8 104.8L670.0 105.6L670.1 106.3L670.3 107.1L670.4 107.9L670.6 108.8L670.7 109.5L670.9 110.0L671.0 110.5L671.2 110.9L671.3 111.1L671.5 111.0L671.6 110.8L671.8 110.6L672.0 110.0L672.1 109.5L672.3 108.5L672.5 107.7L672.6 106.7L672.8 105.6L672.9 105.1L672.9 104.7L673.0 104.2L673.1 103.9L673.2 103.3L673.2 102.7L673.3 102.3L673.4 101.8L673.5 101.3L673.5 100.7L673.6 100.0L673.7 99.6L673.8 98.7L673.8 98.3L673.9 97.5L674.0 97.0L674.1 96.2L674.2 95.6L674.2 94.9L674.3 94.2L674.4 93.3L674.5 92.6L674.5 91.7L674.6 91.0L674.6 90.6L674.7 90.1L674.7 89.4L674.8 88.9L674.8 88.3L674.9 87.6L674.9 87.0L675.0 86.4L675.0 85.8L675.0 85.1L675.1 84.4L675.1 83.7L675.2 83.0L675.2 82.2L675.3 81.6L675.3 80.8L675.4 80.2L675.4 79.5L675.5 78.8L675.5 78.1L675.5 77.3L675.6 76.7L675.6 76.0L675.7 75.2L675.7 74.6L675.8 74.0L675.8 73.3L675.8 72.7L675.9 72.1L675.9 71.5L676.0 70.9L676.0 70.4L676.0 69.8L676.1 69.1L676.1 68.7L676.2 68.3L676.2 67.8L676.2 67.4L676.3 67.0L676.3 66.7L676.7 64.3L676.9 64.2L677.3 64.7L677.7 65.1L678.1 65.8L678.5 66.4L678.9 66.7L679.1 66.4L679.3 66.2L679.5 65.7L679.7 64.9L679.9 63.6L680.0 63.1L680.0 62.7L680.1 62.4L680.1 61.9L680.2 61.2L680.2 60.7L680.3 60.1L680.3 59.4L680.4 58.9L680.5 58.3L680.5 57.7L680.6 57.0L680.6 56.2L680.7 55.5L680.7 54.9L680.8 54.1L680.8 53.4L680.9 52.7L680.9 51.9L681.0 51.2L681.0 50.5L681.1 50.1L681.1 49.5L681.2 48.8L681.2 48.0L681.2 47.4L681.3 46.9L681.3 46.0L681.4 45.4L681.4 44.5L681.5 43.9L681.5 43.3L681.5 42.4L681.6 41.7L681.6 41.0L681.7 40.3L681.7 39.7L681.7 39.0L681.8 38.2L681.8 37.8L681.8 37.1L681.9 36.7L681.9 36.1L681.9 35.6L682.0 35.3L682.0 34.8L682.0 34.5" stroke="#0000ff"/>
<path d="M50.8 209.8L51.3 210.7L52.0 210.9L52.8 209.4L53.6 210.1L54.1 209.1L54.6 210.0L55.1 209.2L55.7 208.6L56.1 207.5L56.6 207.6L57.4 207.8L58.2 208.2L58.8 208.4L59.3 209.2L59.7 209.2L60.2 209.8L60.4 209.3L60.5 208.8L60.7 208.7L60.9 208.4L61.1 207.6L61.3 206.1L61.4 205.2L61.6 204.3L61.8 203.4L62.0 204.0L62.3 203.3L62.6 204.6L62.9 205.2L63.2 206.2L63.6 207.8L63.9 207.6L64.6 207.8L65.4 207.6L66.1 206.9L66.5 205.9L67.0 204.8L67.4 204.6L67.8 203.7L68.2 204.0L68.8 204.4L69.2 206.2L69.7 205.4L69.8 205.3L70.0 203.8L70.1 204.3L70.2 203.3L70.4 202.2L70.5 201.7L70.6 200.8L70.8 200.3L70.9 199.6L71.1 199.5L71.2 201.1L71.4 201.8L71.5 201.2L71.7 203.2L71.8 204.0L72.0 204.2L72.2 204.7L72.8 204.8L73.4 204.2L74.1 204.0L74.4 205.0L74.8 204.7L75.2 205.9L75.6 205.6L75.9 207.1L76.3 206.9L76.8 208.2L77.2 207.9L77.7 208.6L78.1 209.7L78.5 209.1L79.0 209.1L79.5 207.8L79.9 207.6L80.1 207.4L80.4 208.2L80.6 209.6L80.8 209.4L81.1 211.4L81.4 211.3L81.8 211.5L82.2 213.2L82.6 212.6L83.1 214.1L83.6 213.5L84.1 213.8L84.7 213.1L85.4 212.7L86.0 212.5L86.5 212.0L87.3 212.5L88.1 212.4L88.7 212.0L88.8 211.1L88.9 211.2L88.9 211.5L89.0 210.4L89.1 208.8L89.1 209.4L89.2 208.6L89.2 208.2L89.3 206.1L89.3 206.4L89.4 204.4L89.4 204.8L89.4 203.4L89.5 202.7L89.5 203.2L89.6 201.3L89.6 201.5L89.7 201.1L90.0 200.4L90.3 198.5L90.6 198.2L90.9 198.9L91.1 199.8L91.2 199.4L91.4 200.5L91.6 199.9L91.8 201.2L91.9 201.7L92.1 203.4L92.3 204.0L92.4 203.7L92.5 205.8L92.6 204.8L92.7 206.6L92.7 206.0L92.8 207.1L92.9 208.8L93.0 208.3L93.1 209.0L93.2 210.6L93.3 210.7L93.4 210.7L93.5 213.0L93.6 212.0L93.7 212.3L93.8 213.5L94.2 214.2L94.7 215.3L95.1 215.9L95.6 215.0L96.0 215.7L96.4 215.0L96.7 213.7L97.0 213.7L97.4 213.5L97.7 214.2L98.1 214.8L98.5 215.8L98.8 216.2L99.2 216.9L99.6 216.4L99.9 216.6L100.2 215.8L100.5 214.8L100.8 215.0L101.1 213.7L101.5 212.6L101.8 212.7L102.1 212.0L102.4 212.1L102.7 209.9L103.1 210.0L103.4 208.9L103.7 208.7L104.0 207.7L104.3 208.4L104.5 209.5L104.6 208.6L104.8 209.9L104.9 210.2L105.1 210.3L105.2 212.1L105.3 212.2L105.5 212.9L105.6 213.6L105.8 214.5L105.9 215.0L106.0 216.4L106.2 216.4L106.5 216.4L106.7 216.8L107.0 215.9L107.3 215.1L107.6 212.9L107.9 212.5L108.2 211.6L108.4 212.0L108.5 212.4L108.7 212.9L108.8 213.7L108.9 214.2L109.0 214.2L109.2 215.3L109.3 216.3L109.4 216.1L109.5 216.9L109.6 218.2L109.8 218.2L109.9 219.3L110.5 220.0L111.2 218.6L112.0 218.6L112.5 217.9L113.1 218.0L113.8 218.2L114.4 218.3L115.0 219.3L115.3 219.7L115.7 220.2L116.0 220.5L116.3 221.8L116.6 221.7L116.9 223.6L117.3 224.4L117.6 224.4L117.9 224.4L118.6 224.6L119.3 224.7L120.0 224.6L120.8 224.4L121.4 223.7L122.0 224.4L122.7 224.7L123.3 224.2L123.9 224.2L124.5 225.1L125.0 225.9L125.5 225.4L126.0 226.0L126.4 227.2L126.9 227.0L127.4 227.3L127.8 227.3L128.3 229.0L128.7 228.3L129.2 228.1L129.7 229.8L130.1 229.3L130.6 230.1L131.0 231.0L131.4 232.1L131.8 232.3L132.2 232.1L132.5 233.0L132.9 233.5L133.2 234.2L133.6 234.5L133.9 235.4L134.1 236.0L134.4 236.2L134.6 237.0L134.8 237.8L135.0 238.9L135.3 238.8L135.5 240.0L135.7 240.1L135.9 240.9L136.1 241.2L136.8 241.6L137.5 241.6L138.3 241.9L138.7 242.5L139.1 242.8L139.5 243.3L139.9 244.0L140.3 244.5L140.7 245.6L141.2 245.6L141.7 245.7L142.2 245.8L142.7 245.2L143.3 244.3L143.8 244.3L144.3 244.0L144.9 243.4L145.4 243.2L146.0 242.7L146.5 242.2L147.1 241.9L147.7 241.8L148.3 241.2L148.9 241.3L149.5 241.4L150.1 241.5L150.7 242.1L151.4 242.3L152.0 242.7L152.7 243.0L153.2 242.9L153.8 243.4L154.4 243.6L154.9 244.2L155.4 244.4L155.9 245.0L156.3 245.7L156.8 246.3L157.3 246.5L157.7 247.0L158.1 247.7L158.6 247.6L159.0 248.4L159.4 249.4L159.9 249.2L160.3 249.9L160.7 249.9L161.1 250.4L161.7 250.1L162.2 250.4L162.7 250.1L163.2 249.3L163.7 248.4L164.3 248.3L164.9 247.9L165.4 247.6L166.0 247.7L166.6 247.5L167.3 247.1L168.0 246.9L168.7 246.7L169.2 246.3L169.8 246.5L170.4 246.7L171.0 246.5L171.6 245.9L172.2 246.1L172.9 246.2L173.5 245.7L174.1 246.1L174.8 245.6L175.4 245.4L175.9 245.5L176.5 245.0L177.1 245.3L177.7 245.0L178.4 244.6L179.0 244.1L179.6 244.1L180.2 243.6L180.7 243.9L181.3 244.0L181.8 243.5L182.5 243.1L183.2 243.2L183.9 243.0L184.5 242.8L185.1 242.9L185.7 243.0L186.4 242.6L187.0 242.3L187.6 242.1L188.2 242.3L188.8 241.6L189.3 241.8L189.9 241.5L190.5 241.4L191.1 241.2L191.7 240.5L192.3 240.5L192.9 240.4L193.5 239.9L194.1 239.9L194.7 239.9L195.3 239.3L195.8 238.6L196.4 238.7L197.0 238.7L197.6 238.3L198.2 238.4L198.9 238.0L199.5 238.0L200.1 237.2L200.8 237.8L201.4 237.5L202.1 237.2L202.8 237.0L203.4 237.2L204.0 237.0L204.6 236.2L205.2 236.6L205.8 236.4L206.5 235.8L207.1 236.1L207.8 235.9L208.4 235.4L209.0 235.6L209.6 235.8L210.3 235.3L210.9 235.6L211.5 235.5L212.2 235.4L212.8 235.7L213.4 235.7L214.0 235.5L214.6 236.1L215.1 235.7L215.8 235.2L216.5 235.0L217.2 235.1L217.8 235.1L218.4 234.8L218.9 234.7L219.5 234.6L220.0 234.8L220.5 235.3L221.0 235.5L221.5 236.0L222.0 236.7L222.5 236.9L223.0 237.8L223.4 237.9L223.9 238.9L224.4 238.9L224.9 239.8L225.4 240.3L225.9 240.4L226.4 241.0L226.9 241.4L227.3 241.3L227.9 241.5L228.6 240.6L229.2 240.2L229.8 239.9L230.3 239.6L230.8 239.5L231.3 239.5L231.6 239.7L231.9 240.5L232.2 241.5L232.6 242.1L232.8 242.5L232.9 243.1L233.1 243.5L233.3 244.1L233.5 245.0L233.7 245.3L233.9 246.2L234.1 246.8L234.3 247.5L234.5 248.4L234.7 248.5L235.0 249.6L235.2 250.0L235.4 250.4L235.7 251.2L236.0 251.8L236.3 252.3L236.6 252.6L236.9 253.4L237.1 253.5L237.4 254.3L237.7 254.7L238.0 255.3L238.2 256.0L238.5 256.6L238.7 257.0L238.9 257.6L239.0 258.0L239.2 258.6L239.3 259.3L239.5 259.7L239.6 260.4L239.7 261.4L239.8 261.5L239.9 262.6L240.0 263.0L240.2 263.6L240.3 264.3L240.4 264.8L240.5 265.8L240.6 266.3L240.7 266.8L240.8 267.6L240.9 268.2L241.0 269.3L241.0 270.1L241.1 270.5L241.2 271.4L241.3 272.3L241.4 272.7L241.5 273.3L241.6 274.0L241.7 274.6L241.7 275.5L241.8 275.8L241.9 276.3L242.0 276.9L242.1 276.9L242.2 277.2L242.4 277.5L242.6 277.3L242.7 276.8L242.9 276.6L243.1 275.6L243.3 275.1L243.5 274.2L243.6 273.0L243.8 272.1L244.0 271.0L244.1 270.8L244.1 270.2L244.2 269.7L244.3 269.2L244.4 268.7L244.4 267.9L244.5 267.5L244.6 266.4L244.6 266.0L244.7 265.3L244.8 264.5L244.8 263.8L244.9 263.0L245.0 262.8L245.0 261.8L245.1 261.2L245.2 260.8L245.3 259.7L245.3 259.5L245.4 258.4L245.5 257.8L245.6 257.4L245.7 257.0L245.8 256.2L246.0 255.8L246.2 255.1L246.3 254.3L246.5 253.4L246.7 252.8L246.9 251.9L247.1 251.7L247.2 250.8L247.4 250.1L247.6 249.8L247.8 249.0L247.9 248.6L248.1 248.5L248.3 247.5L248.4 247.4L248.9 246.0L249.3 245.3L249.6 245.0L250.1 245.1L250.5 245.2L250.9 245.5L251.4 246.1L251.9 246.7L252.3 247.4L252.7 248.3L252.9 248.9L253.1 249.3L253.3 249.9L253.5 250.8L253.7 251.0L253.9 251.7L254.0 252.8L254.2 253.2L254.3 254.0L254.5 254.4L254.7 255.0L254.9 256.3L255.0 257.4L255.2 258.0L255.3 258.9L255.5 259.1L255.7 258.8L255.8 258.5L255.9 258.6L255.9 257.8L256.0 257.4L256.1 257.0L256.2 256.3L256.3 256.0L256.4 255.2L256.5 254.5L256.6 253.8L256.7 253.4L256.7 252.6L256.8 251.8L256.9 250.9L257.0 250.1L257.1 249.5L257.2 248.5L257.3 247.9L257.4 247.5L257.5 247.2L257.6 246.0L257.7 245.9L257.8 245.0L257.9 244.5L257.9 243.3L258.0 242.8L258.1 242.4L258.2 241.3L258.3 240.6L258.4 240.1L258.5 239.4L258.6 238.8L258.7 238.5L258.8 237.6L258.9 237.6L259.0 236.9L259.1 236.1L259.2 236.0L259.6 235.1L260.0 234.1L260.5 233.9L261.0 233.7L261.5 233.3L262.0 232.7L262.5 232.6L263.1 232.1L263.6 231.9L264.3 232.0L265.0 231.5L265.5 231.5L266.0 231.1L266.4 231.0L267.0 230.9L267.5 230.2L268.1 230.3L268.8 229.9L269.6 229.7L270.5 229.8L271.0 229.5L271.4 229.5L272.0 229.4L272.5 229.5L273.1 229.6L273.6 229.7L274.2 229.8L274.8 229.8L275.5 229.7L276.1 229.6L276.8 229.8L277.4 229.4L278.1 229.3L278.7 229.8L279.4 229.6L280.0 229.4L280.7 229.4L281.3 229.4L281.9 229.4L282.5 229.4L283.1 229.3L283.7 229.2L284.4 229.4L285.0 229.3L285.6 229.1L286.2 228.9L286.8 228.7L287.4 228.9L288.1 229.0L288.7 228.4L289.3 228.6L289.9 228.5L290.5 228.4L291.1 227.9L291.7 228.1L292.4 227.8L293.0 227.8L293.6 227.9L294.2 227.8L294.8 227.8L295.4 227.8L296.0 227.8L296.7 227.7L297.3 227.5L297.9 227.2L298.5 227.6L299.1 227.6L299.7 227.5L300.4 227.4L301.0 227.0L301.6 227.0L302.2 226.9L302.8 227.2L303.4 227.1L304.1 226.9L304.7 227.3L305.3 227.2L305.9 226.9L306.5 227.1L307.2 226.8L307.8 226.6L308.5 226.5L309.2 226.8L309.9 226.7L310.6 226.4L311.3 226.7L312.0 226.5L312.7 226.3L313.3 226.3L314.0 226.4L314.6 226.2L315.2 226.3L315.7 225.9L316.3 226.2L316.8 225.9L317.2 226.2L317.6 225.9L318.6 225.5L318.6 225.3L318.7 225.2L320.0 225.0L320.4 224.9L320.8 224.9L321.2 225.1L321.7 224.7L322.2 225.0L322.8 224.9L323.4 224.9L324.0 224.6L324.6 224.6L325.3 224.5L325.9 224.5L326.6 224.3L327.3 224.3L327.9 224.4L328.6 224.2L329.3 224.3L330.0 224.4L330.7 224.2L331.4 224.1L332.0 224.3L332.7 224.4L333.3 224.0L333.9 224.3L334.5 224.3L335.1 224.2L335.8 224.4L336.5 224.3L337.2 224.2L337.8 224.1L338.5 224.6L339.2 224.3L339.8 224.2L340.5 224.7L341.1 224.4L341.7 224.6L342.4 224.6L343.0 224.7L343.6 225.0L344.2 224.9L344.8 225.0L345.4 225.0L346.0 225.3L346.5 224.9L347.1 225.3L347.6 225.3L348.3 225.1L349.1 225.2L349.8 225.5L350.4 225.4L351.1 225.3L351.7 225.6L352.3 225.9L352.9 225.7L353.5 225.7L354.1 225.9L354.7 226.0L355.3 225.6L355.8 225.7L356.4 225.9L357.1 226.3L357.8 226.3L358.4 226.0L359.1 226.5L359.7 226.7L360.3 226.7L360.9 226.8L361.5 226.8L362.2 226.7L362.8 226.7L363.4 226.8L364.0 226.4L364.5 226.6L365.1 226.1L365.6 226.1L366.2 225.7L366.7 225.4L367.3 225.4L367.9 224.8L368.5 224.6L369.1 224.3L369.7 224.0L370.4 224.1L370.9 223.9L371.5 224.1L372.1 224.2L372.7 223.8L373.3 224.4L373.9 224.3L374.6 224.0L375.2 224.5L375.8 224.4L376.5 224.6L377.1 224.4L377.7 224.8L378.3 224.8L378.9 225.1L379.5 225.0L380.0 225.0L380.7 225.2L381.3 225.2L381.9 224.9L382.5 224.8L383.0 225.1L383.6 224.9L384.1 224.9L384.7 224.9L385.4 225.1L386.1 225.1L386.9 225.0L387.4 225.1L387.9 225.2L388.4 224.7L389.0 225.0L389.5 224.7L390.1 225.0L390.7 224.8L391.3 224.6L392.0 224.7L392.6 224.9L393.2 224.8L393.9 225.0L394.5 224.6L395.1 224.6L395.8 224.9L396.4 224.7L397.1 224.4L397.7 224.8L398.3 224.5L398.9 224.6L399.5 224.9L400.1 224.7L400.8 224.8L401.4 224.8L402.0 224.6L402.6 224.9L403.2 224.3L403.8 224.5L404.4 224.8L405.0 224.3L405.7 224.7L406.3 224.9L406.9 224.7L407.5 224.8L408.2 224.3L408.8 224.6L409.5 224.7L410.1 224.6L410.8 224.6L411.4 224.6L412.0 224.8L412.5 224.4L413.1 224.3L413.8 224.6L414.4 224.9L415.0 224.8L415.6 224.7L416.3 224.5L416.9 224.8L417.6 224.3L418.2 224.4L418.8 224.7L419.5 224.8L420.1 224.5L420.7 224.8L421.3 224.3L421.9 224.6L422.5 224.3L423.1 224.4L423.6 224.4L424.2 224.3L424.7 224.6L425.4 224.6L426.1 224.6L426.8 224.5L427.5 224.7L428.2 224.4L428.8 224.7L429.4 224.7L430.0 224.6L430.6 225.0L431.2 224.5L431.8 224.7L432.4 224.8L432.9 224.8L433.5 225.2L434.0 225.0L434.6 225.0L435.3 225.1L436.0 225.2L436.6 225.3L437.3 225.7L438.0 225.7L438.6 225.8L439.2 225.6L439.8 226.0L440.4 225.9L441.0 226.2L441.6 226.1L442.1 226.6L442.6 226.6L443.4 227.0L444.1 226.9L444.8 226.9L445.4 226.7L446.0 226.9L446.6 227.0L447.1 227.2L447.6 227.5L448.1 227.7L448.5 228.2L448.8 229.1L449.2 229.8L449.5 230.4L449.8 230.8L450.1 231.0L450.5 231.9L450.9 232.2L451.3 233.1L451.7 233.5L452.1 233.7L452.4 234.1L452.8 234.7L453.2 235.0L453.5 235.9L453.7 236.5L453.8 236.7L454.0 237.5L454.1 237.7L454.3 238.4L454.4 238.9L454.5 239.4L454.7 239.9L454.8 240.9L454.9 241.4L455.0 241.8L455.2 242.6L455.3 243.6L455.4 244.2L455.5 244.8L455.6 245.4L455.6 246.1L455.7 246.0L455.8 246.9L455.8 247.4L455.9 247.8L455.9 248.7L456.0 249.2L456.1 249.4L456.1 250.1L456.2 250.8L456.2 251.3L456.3 251.7L456.3 252.6L456.4 252.9L456.4 253.4L456.5 254.5L456.6 255.2L456.6 255.7L456.7 256.5L456.7 257.6L456.8 258.3L456.8 258.8L456.9 259.7L456.9 260.5L457.0 260.7L457.0 261.1L457.0 261.8L457.1 262.4L457.1 263.1L457.1 263.5L457.2 264.0L457.2 264.4L457.3 264.8L457.3 265.7L457.3 266.0L457.4 267.2L457.4 267.4L457.4 268.2L457.5 269.0L457.5 269.2L457.6 270.3L457.6 270.6L457.6 271.1L457.7 272.1L457.7 272.6L457.7 273.6L457.8 273.9L457.8 274.3L457.9 274.9L457.9 275.6L457.9 276.6L458.0 277.4L458.0 277.5L458.0 278.4L458.1 279.1L458.1 280.0L458.2 280.7L458.2 281.3L458.2 281.7L458.3 282.3L458.3 282.6L458.4 283.5L458.4 283.7L458.4 284.4L458.5 285.3L458.5 285.6L458.5 286.3L458.6 287.1L458.6 287.7L458.7 288.2L458.8 289.1L458.8 289.8L458.9 290.2L458.9 291.3L459.0 292.1L459.0 292.2L459.1 292.9L459.1 294.0L459.2 294.5L459.2 294.8L459.3 295.7L459.3 296.1L459.4 297.2L459.4 297.6L459.5 298.1L459.5 298.5L459.6 299.3L459.6 299.9L459.7 300.4L459.7 300.8L459.8 301.4L459.8 302.2L459.9 302.9L459.9 303.4L459.9 303.7L460.0 304.3L460.0 304.3L460.1 304.9L460.1 305.5L460.2 306.6L460.2 307.1L460.3 308.1L460.4 309.5L460.4 310.0L460.5 310.8L460.5 311.7L460.5 312.8L460.6 312.8L460.6 313.9L460.7 314.0L460.7 314.5L460.8 314.6L460.8 314.4L460.9 314.5L460.9 314.7L461.0 313.9L461.0 314.0L461.1 313.7L461.1 313.0L461.2 312.9L461.2 311.8L461.2 311.3L461.3 310.9L461.3 310.0L461.4 309.8L461.4 308.9L461.5 308.4L461.5 307.3L461.6 306.4L461.6 306.2L461.7 305.0L461.7 304.4L461.8 303.4L461.8 303.0L461.9 302.2L461.9 301.3L462.0 300.5L462.0 300.0L462.1 299.5L462.1 299.1L462.2 298.0L462.2 297.5L462.3 297.1L462.3 296.5L462.4 296.0L462.4 295.2L462.5 294.7L462.5 293.6L462.6 293.5L462.6 292.2L462.7 291.6L462.8 291.0L462.8 290.8L462.9 290.0L462.9 289.6L463.0 289.0L463.0 288.4L463.1 287.6L463.1 286.8L463.2 286.6L463.2 285.9L463.3 285.0L463.4 284.7L463.4 283.8L463.5 283.6L463.6 282.5L463.7 282.2L463.8 281.6L464.0 281.1L464.1 280.5L464.2 279.5L464.3 279.5L464.5 279.1L464.6 278.4L464.7 277.7L464.9 277.0L465.0 276.3L465.1 276.1L465.3 275.6L465.4 274.3L465.5 273.7L465.6 273.4L465.6 273.0L465.7 272.1L465.8 271.9L465.8 270.9L465.9 270.4L465.9 270.0L466.0 269.6L466.1 268.8L466.1 267.9L466.2 267.8L466.3 266.9L466.3 266.4L466.4 265.4L466.4 264.8L466.5 264.0L466.6 263.4L466.6 262.9L466.7 262.3L466.8 261.8L466.8 261.3L466.9 260.3L467.0 260.1L467.0 259.3L467.1 258.5L467.1 257.8L467.2 257.7L467.3 257.0L467.3 256.0L467.4 255.8L467.5 255.2L467.6 254.2L467.7 253.5L467.8 253.0L467.9 251.9L468.0 251.2L468.1 250.7L468.2 250.3L468.3 249.0L468.3 248.8L468.4 248.1L468.5 247.1L468.6 246.8L468.7 246.2L468.8 245.7L468.9 245.0L469.0 244.3L469.1 244.0L469.2 243.4L469.3 243.1L469.4 242.8L469.9 241.5L470.4 241.0L471.0 241.2L471.4 241.4L471.9 241.1L472.6 241.6L473.0 241.8L473.5 242.2L474.0 242.7L474.5 242.8L475.1 243.4L475.6 243.7L476.1 244.2L476.6 244.5L477.0 245.1L477.4 246.3L477.8 246.9L478.2 247.2L478.7 247.3L479.4 247.1L480.1 247.0L480.8 246.6L481.5 246.4L482.1 246.3L482.8 246.1L483.2 245.6L483.8 245.1L484.0 244.7L484.2 244.4L484.4 244.0L484.6 242.9L484.8 242.2L485.0 242.1L485.3 241.1L485.5 240.4L485.7 239.6L486.0 239.1L486.2 238.5L486.4 238.2L486.7 237.3L487.1 236.7L487.4 236.2L487.8 235.9L488.1 235.0L488.4 234.6L488.7 234.2L489.0 233.8L489.6 233.3L490.1 232.8L490.8 232.5L491.3 232.9L491.8 232.6L492.4 233.3L493.1 233.3L493.7 233.9L494.2 234.2L494.7 234.7L495.1 235.2L495.5 235.6L495.9 236.0L496.3 236.5L496.8 237.3L497.3 238.0L497.8 238.4L498.3 238.5L498.9 238.6L499.4 239.5L499.9 239.6L500.3 239.9L500.8 240.5L501.2 241.2L501.6 241.3L502.0 241.6L502.3 241.2L502.7 241.2L503.1 240.6L503.4 240.2L503.8 239.2L504.2 239.0L504.6 238.2L505.1 238.0L505.7 237.2L506.2 237.1L506.7 236.3L507.2 236.4L507.8 236.1L508.3 236.7L508.9 236.8L509.4 238.2L509.5 238.6L509.6 239.2L509.7 239.7L509.8 240.0L509.9 241.0L510.0 241.1L510.1 242.2L510.2 243.1L510.3 243.6L510.4 244.1L510.5 245.3L510.6 245.9L510.7 246.6L510.8 247.4L510.9 248.0L511.0 248.4L511.1 249.1L511.2 249.4L511.4 250.2L511.6 250.9L511.9 251.6L512.1 252.3L512.3 252.8L512.6 253.8L512.8 254.2L513.1 255.0L513.3 254.8L513.6 255.5L514.2 256.1L514.8 255.8L515.4 255.9L516.0 255.7L516.7 255.5L517.3 255.4L517.9 255.1L518.5 254.8L519.1 254.4L519.7 254.0L520.2 253.7L520.6 253.2L521.0 252.8L521.4 252.1L521.8 251.5L522.1 251.0L522.5 250.4L522.8 250.3L523.4 250.0L523.9 250.0L524.5 250.5L525.0 252.0L525.1 252.3L525.2 252.8L525.3 253.1L525.4 253.7L525.5 254.1L525.5 254.8L525.6 255.2L525.7 256.0L525.8 256.5L525.9 257.2L526.0 257.9L526.1 258.5L526.2 259.0L526.3 259.8L526.3 260.7L526.4 261.3L526.5 262.0L526.6 262.7L526.7 263.5L526.8 264.1L526.9 264.8L526.9 265.4L527.0 266.0L527.1 266.7L527.2 267.2L527.2 267.8L527.3 268.6L527.4 269.3L527.5 269.9L527.5 270.6L527.6 271.0L527.7 271.7L527.7 272.5L527.8 273.1L527.9 273.9L527.9 274.6L528.0 275.3L528.1 275.8L528.1 276.6L528.2 277.2L528.2 277.8L528.3 278.3L528.4 278.9L528.4 279.6L528.5 280.1L528.6 280.6L528.6 281.1L528.7 281.4L528.7 281.9L528.8 282.3L529.0 283.6L529.3 284.7L529.5 285.4L529.7 285.9L530.0 286.0L530.2 285.7L530.3 285.4L530.4 285.3L530.5 284.7L530.6 284.4L530.8 283.8L530.9 283.3L531.0 282.5L531.1 282.0L531.2 281.3L531.3 280.3L531.5 279.5L531.6 278.9L531.8 277.9L531.9 277.1L532.0 276.5L532.1 276.1L532.2 275.5L532.2 274.9L532.3 274.4L532.4 273.7L532.5 273.3L532.6 272.6L532.7 272.0L532.8 271.2L532.9 270.7L533.0 270.1L533.1 269.4L533.2 268.5L533.3 267.9L533.4 267.2L533.5 266.7L533.6 266.1L533.7 265.4L533.8 264.7L533.9 264.3L534.0 263.6L534.1 263.1L534.2 262.5L534.3 262.0L534.4 261.5L534.6 260.5L534.7 259.8L534.9 259.0L535.0 258.1L535.2 257.5L535.4 256.6L535.5 256.1L535.7 255.5L535.8 254.9L536.0 254.3L536.1 253.8L536.3 253.4L536.4 253.2L536.6 252.9L537.0 252.8L537.5 253.3L537.9 254.3L538.4 255.1L538.9 255.5L539.3 255.2L539.8 254.8L540.3 254.2L540.8 253.5L541.3 252.8L541.8 252.5L542.5 252.2L543.2 251.8L543.9 251.8L544.7 252.0L545.3 252.1L545.8 252.3L546.5 252.6L547.1 252.9L547.7 253.1L548.2 253.7L548.5 254.2L548.9 254.4L549.2 254.9L549.5 255.3L549.8 256.0L550.2 256.6L550.4 257.3L550.7 258.1L551.0 258.9L551.1 259.4L551.2 259.9L551.4 260.3L551.5 261.0L551.6 261.5L551.7 262.1L551.8 262.5L551.9 263.2L552.0 263.8L552.1 264.4L552.2 265.0L552.3 265.8L552.4 266.4L552.5 267.1L552.6 267.6L552.7 268.4L552.8 268.8L552.9 269.6L553.0 270.2L553.1 270.7L553.2 271.3L553.3 272.0L553.4 272.7L553.5 273.5L553.6 274.0L553.6 274.8L553.7 275.4L553.8 276.2L553.9 276.9L554.0 277.5L554.1 278.0L554.2 278.6L554.3 279.4L554.4 279.8L554.4 280.5L554.5 281.1L554.6 281.4L554.7 281.8L554.8 282.3L555.1 283.5L555.5 284.5L555.8 285.0L556.2 285.3L556.5 285.4L557.1 285.4L557.6 284.9L558.2 284.0L558.4 283.7L558.6 283.1L558.8 282.6L559.0 281.9L559.2 281.4L559.4 280.7L559.6 280.0L559.8 279.4L560.0 278.8L560.2 278.1L560.4 277.5L560.5 276.8L560.7 276.1L560.8 275.5L561.0 274.8L561.1 274.2L561.3 273.6L561.5 272.9L561.7 272.0L561.9 271.1L562.2 270.5L562.4 270.2L562.7 270.1L562.9 270.2L563.1 270.8L563.3 271.4L563.5 272.1L563.7 272.8L563.9 273.6L564.1 274.5L564.4 275.2L564.6 275.9L564.9 276.3L565.1 276.5L565.6 276.6L566.1 276.1L566.6 275.2L567.2 274.5L567.7 274.0L568.2 273.8L568.6 274.2L568.9 274.6L569.2 275.5L569.6 276.3L569.9 277.1L570.2 277.9L570.6 278.3L570.9 278.4L571.2 278.1L571.4 277.7L571.7 276.9L571.9 276.2L572.2 275.4L572.4 274.6L572.7 273.6L572.9 273.0L573.2 272.4L573.4 272.2L573.7 272.3L573.8 272.5L574.0 272.8L574.1 273.3L574.3 273.9L574.4 274.6L574.6 275.1L574.7 275.9L574.8 276.6L575.0 277.5L575.1 278.4L575.3 279.3L575.4 280.2L575.5 280.7L575.7 281.5L575.8 282.2L576.0 282.7L576.1 283.3L576.3 283.7L576.4 283.8L576.7 283.7L577.0 283.5L577.2 282.8L577.5 282.0L577.8 281.0L578.1 280.1L578.4 279.1L578.6 278.5L578.9 278.3L579.2 278.4L579.3 278.5L579.4 278.8L579.5 279.3L579.7 279.5L579.8 280.1L579.9 280.5L580.0 281.0L580.1 281.6L580.2 282.3L580.3 282.9L580.4 283.6L580.5 284.3L580.6 284.9L580.7 285.8L580.8 286.4L580.9 287.1L581.1 287.7L581.2 288.5L581.3 289.3L581.5 290.1L581.6 290.7L581.7 291.2L581.9 292.0L582.0 292.6L582.2 293.1L582.3 293.8L582.5 294.4L582.6 295.1L582.8 295.9L583.0 296.6L583.2 297.4L583.3 298.2L583.5 298.9L583.7 299.6L583.9 300.3L584.1 301.1L584.2 301.7L584.4 302.4L584.6 303.3L584.8 303.8L585.0 304.5L585.2 305.0L585.3 305.5L585.5 306.1L585.7 306.4L585.9 306.7L586.0 307.2L586.2 307.4L586.3 307.6L586.5 307.6L586.7 307.7L586.9 307.4L587.1 307.1L587.2 306.8L587.4 306.3L587.6 305.6L587.8 305.0L587.9 304.3L588.1 303.4L588.3 302.5L588.4 301.7L588.6 301.0L588.8 300.0L588.9 299.3L589.1 298.3L589.2 297.8L589.4 296.9L589.5 296.4L589.7 295.8L589.8 295.3L590.0 295.1L590.1 294.8L590.4 294.7L590.6 295.0L590.9 295.5L591.1 296.1L591.3 297.0L591.5 298.0L591.7 298.9L591.9 299.7L592.1 300.5L592.3 301.0L592.5 301.2L592.8 301.0L593.0 300.3L593.2 299.3L593.4 298.2L593.6 297.2L593.8 296.6L594.1 296.3L594.3 296.6L594.4 296.8L594.5 297.2L594.5 297.7L594.6 298.2L594.7 298.6L594.8 299.3L594.9 300.0L594.9 300.8L595.0 301.4L595.1 302.4L595.2 303.2L595.3 303.8L595.4 304.7L595.4 305.6L595.5 306.4L595.6 307.3L595.7 307.9L595.8 308.8L595.9 309.3L595.9 310.2L596.0 310.7L596.1 311.2L596.2 311.9L596.3 312.3L596.3 312.6L596.4 312.9L596.5 313.0L596.6 313.1L596.7 313.1L596.9 313.0L597.0 312.8L597.1 312.4L597.2 311.9L597.3 311.3L597.4 310.7L597.5 310.1L597.6 309.1L597.7 308.2L597.8 307.3L597.9 306.4L598.1 305.3L598.2 304.2L598.3 303.0L598.3 302.6L598.4 302.2L598.4 301.7L598.5 301.0L598.5 300.5L598.6 300.1L598.6 299.4L598.7 298.9L598.7 298.3L598.8 297.9L598.8 297.2L598.9 296.5L598.9 295.8L598.9 295.2L599.0 294.4L599.0 293.8L599.1 293.1L599.1 292.5L599.2 291.8L599.2 291.0L599.3 290.4L599.3 289.7L599.4 289.0L599.4 288.2L599.5 287.5L599.5 286.9L599.6 286.1L599.6 285.4L599.7 284.8L599.7 284.2L599.8 283.5L599.8 282.7L599.9 282.1L599.9 281.4L600.0 280.8L600.0 280.2L600.1 279.8L600.1 279.1L600.2 278.4L600.2 277.9L600.3 277.4L600.3 277.1L600.4 276.4L600.4 276.1L600.5 275.6L600.6 274.5L600.8 273.5L600.9 272.8L601.0 271.9L601.2 271.2L601.3 270.6L601.4 270.0L601.5 269.5L601.7 269.1L601.8 268.5L602.0 268.0L602.1 267.7L602.2 267.3L602.4 266.9L602.6 266.5L602.7 266.0L602.9 265.6L603.2 264.9L603.6 263.9L603.9 263.0L604.3 262.3L604.7 261.5L605.1 260.8L605.4 260.5L605.8 260.1L606.2 260.0L606.5 260.1L606.7 260.3L606.8 260.6L607.0 261.2L607.2 261.9L607.3 262.7L607.5 263.5L607.7 264.2L607.8 265.2L608.0 266.1L608.1 267.0L608.3 267.8L608.4 268.7L608.6 269.4L608.7 270.0L608.8 270.4L609.0 270.8L609.1 271.1L609.3 271.1L609.4 271.0L609.6 270.8L609.7 270.4L609.8 270.1L609.9 269.5L610.1 269.0L610.2 268.2L610.3 267.6L610.5 267.0L610.6 266.2L610.7 265.3L610.8 264.6L611.0 263.6L611.1 262.8L611.2 262.1L611.4 261.3L611.5 260.6L611.6 260.0L611.7 259.4L611.9 258.9L612.0 258.3L612.3 257.4L612.5 256.6L612.8 255.9L613.0 255.2L613.3 254.6L613.5 254.1L613.8 253.7L614.1 253.1L614.4 253.1L614.7 252.8L615.2 252.6L615.7 252.7L616.2 253.0L616.8 253.3L617.3 253.8L617.9 254.5L618.4 255.5L618.6 255.8L618.8 256.4L619.0 257.0L619.2 257.8L619.4 258.4L619.6 259.3L619.8 260.1L620.0 261.0L620.2 261.9L620.4 262.6L620.5 263.3L620.7 264.0L620.9 264.8L621.1 265.3L621.3 265.9L621.5 266.1L621.7 266.5L621.8 266.5L622.0 266.5L622.1 266.3L622.2 266.0L622.3 265.9L622.5 265.4L622.6 265.0L622.7 264.6L622.8 263.8L622.9 263.3L623.0 262.6L623.1 261.9L623.2 261.3L623.3 260.4L623.4 259.6L623.5 258.9L623.6 258.0L623.7 257.2L623.8 256.4L623.9 255.7L624.0 255.0L624.1 254.3L624.2 253.6L624.3 252.8L624.4 252.3L624.5 251.5L624.6 250.9L624.7 250.5L624.8 250.1L625.1 249.0L625.5 248.1L625.8 247.1L626.1 246.5L626.5 246.0L626.8 245.6L627.2 245.5L627.5 245.4L627.9 245.5L628.1 245.6L628.4 245.9L628.6 246.2L628.8 246.6L629.1 247.0L629.3 247.5L629.5 248.0L629.8 248.5L630.0 249.3L630.3 250.0L630.5 250.8L630.7 251.7L631.0 252.7L631.2 253.7L631.3 254.2L631.4 254.6L631.5 255.2L631.6 255.7L631.7 256.4L631.8 257.1L631.9 257.6L632.0 258.2L632.1 259.1L632.2 259.7L632.2 260.4L632.3 261.2L632.4 262.0L632.5 262.8L632.6 263.7L632.7 264.3L632.8 265.2L632.9 266.0L633.0 266.6L633.1 267.5L633.2 268.2L633.3 269.0L633.4 269.6L633.5 270.3L633.6 270.9L633.7 271.6L633.8 272.3L633.8 272.7L633.9 273.2L634.0 273.7L634.1 274.1L634.2 274.7L634.3 275.0L634.3 275.2L634.4 275.4L634.5 275.6L634.6 275.6L634.7 275.7L634.9 275.4L635.0 275.2L635.1 274.8L635.2 274.1L635.3 273.5L635.4 272.7L635.5 271.9L635.6 271.0L635.7 270.2L635.8 269.3L635.9 268.3L636.0 267.5L636.0 266.5L636.1 265.7L636.2 265.0L636.3 264.3L636.4 263.8L636.5 263.1L636.6 262.8L637.2 261.5L637.8 261.7L638.5 261.9L639.1 262.0L639.7 262.3L640.4 262.7L641.2 262.8L641.8 262.9L642.4 262.7L643.0 262.6L643.7 262.4L644.3 262.4L644.9 262.5L645.5 262.8L646.1 263.1L646.6 263.6L647.1 264.1L647.6 264.7L647.9 265.1L648.3 265.7L648.6 266.2L648.9 267.0L649.3 267.5L649.6 267.9L650.0 268.3L650.3 268.7L651.0 268.6L651.6 268.4L652.3 267.9L653.1 268.0L653.5 268.1L653.9 268.3L654.4 268.8L654.9 269.0L655.4 269.6L655.8 269.9L656.3 270.4L656.8 270.9L657.2 271.5L657.6 272.0L657.9 272.4L658.1 272.9L658.4 273.4L658.6 273.9L658.8 274.6L659.0 275.3L659.2 275.6L659.4 276.4L659.6 276.9L659.8 277.5L660.0 278.0L660.2 278.7L660.4 279.3L660.6 279.9L660.9 280.7L661.1 281.5L661.3 282.2L661.5 283.2L661.8 283.9L662.0 284.7L662.2 285.2L662.4 285.9L662.7 286.3L662.9 286.6L663.1 286.6L663.3 286.4L663.5 286.3L663.7 285.8L663.9 285.2L664.1 284.7L664.3 283.9L664.5 283.2L664.7 282.3L664.9 281.4L665.1 280.7L665.3 280.0L665.5 279.3L665.7 278.7L665.8 278.0L666.0 277.2L666.2 276.4L666.4 275.5L666.5 274.6L666.7 273.9L666.9 273.0L667.1 272.4L667.2 271.7L667.4 271.3L667.6 271.0L667.8 271.0L668.0 271.1L668.1 271.2L668.2 271.6L668.4 272.0L668.5 272.6L668.6 273.0L668.7 273.7L668.8 274.5L669.0 275.1L669.1 276.1L669.2 276.7L669.3 277.6L669.5 278.4L669.6 279.3L669.7 280.0L669.8 281.0L670.0 281.8L670.1 282.6L670.2 283.2L670.4 283.7L670.5 284.4L670.6 285.0L670.7 285.3L670.9 285.5L671.0 285.7L671.2 285.8L671.4 285.9L671.6 285.7L671.8 285.4L672.0 285.0L672.2 284.4L672.4 283.9L672.6 283.2L672.8 282.6L673.0 281.9L673.2 280.9L673.4 280.3L673.5 279.3L673.7 278.4L673.9 277.6L674.1 276.5L674.2 276.1L674.3 275.6L674.3 275.1L674.4 274.5L674.5 274.0L674.6 273.4L674.7 272.7L674.8 272.2L674.8 271.3L674.9 270.8L675.0 270.2L675.1 269.3L675.2 268.7L675.3 267.9L675.3 267.3L675.4 266.4L675.5 265.7L675.6 265.0L675.6 264.4L675.7 263.7L675.8 263.0L675.9 262.3L676.0 261.6L676.0 260.9L676.1 260.4L676.2 259.8L676.3 259.1L676.3 258.6L676.4 258.0L676.5 257.4L676.5 256.9L676.6 256.6L676.7 256.2L676.7 255.8L676.8 255.5L677.5 254.1L678.0 255.2L678.6 255.5L678.8 255.2L679.0 254.8L679.2 254.3L679.4 253.8L679.6 253.1L679.8 252.4L680.0 251.8L680.2 250.9L680.4 250.1L680.5 249.7L680.6 249.0L680.7 248.4L680.8 247.8L680.9 247.2L681.0 246.4L681.1 245.7L681.2 245.2L681.3 244.4L681.4 243.7L681.5 243.0L681.6 242.4L681.7 241.7L681.7 241.2L681.8 240.8L681.9 240.4L681.9 240.0" stroke="#ff0000"/>
<path d="M50.8 386.3L51.2 385.9L51.7 386.5L52.4 386.2L53.1 386.7L53.8 386.8L54.4 386.6L55.0 385.8L55.7 385.8L56.3 387.2L56.9 386.2L57.5 386.3L58.0 387.0L58.5 388.4L58.9 388.2L59.2 389.7L59.6 389.8L59.9 390.4L60.2 389.9L60.3 389.0L60.4 389.5L60.5 389.4L60.6 388.2L60.7 387.9L60.8 387.1L60.9 385.2L60.9 385.7L61.0 384.6L61.1 383.3L61.2 382.1L61.3 382.8L61.3 381.5L61.4 381.3L61.5 381.1L61.6 380.4L61.7 379.7L62.1 380.1L62.6 379.8L63.0 381.6L63.4 381.9L63.7 382.5L64.0 384.1L64.2 384.5L64.6 384.1L65.0 383.2L65.4 382.7L65.9 382.3L66.3 383.1L66.8 381.9L67.5 382.1L68.3 383.1L69.0 382.6L69.2 381.9L69.3 381.7L69.5 380.9L69.6 380.1L69.8 379.7L69.9 378.9L70.1 378.6L70.2 377.4L70.4 377.1L70.5 376.3L70.7 376.0L70.8 375.1L70.9 374.6L71.0 374.1L71.2 375.7L71.3 376.5L71.4 377.2L71.5 377.5L71.6 378.7L71.7 378.7L71.8 380.5L71.9 380.4L72.6 380.9L73.4 381.2L73.6 381.3L73.7 381.5L73.9 383.7L74.0 384.8L74.2 384.1L74.3 386.1L74.5 386.1L74.6 386.1L74.8 387.0L75.0 386.5L75.3 386.7L75.5 386.0L75.8 383.6L76.1 383.9L76.3 383.4L76.5 382.8L76.8 384.7L77.0 384.8L77.2 386.6L77.5 387.5L77.7 387.0L78.1 386.7L78.4 386.7L78.8 384.7L79.2 384.8L79.4 384.3L79.6 385.7L79.8 385.4L80.0 386.4L80.2 387.6L80.5 388.7L80.7 389.2L80.9 389.2L81.2 389.7L81.4 391.9L81.7 391.6L81.9 393.4L82.2 393.9L82.5 393.4L82.8 393.9L83.4 393.9L84.0 393.8L84.6 393.6L85.2 393.0L85.8 392.4L86.5 392.4L87.1 392.6L87.7 392.8L88.2 390.7L88.3 390.3L88.4 389.8L88.4 389.8L88.5 388.4L88.6 387.9L88.6 388.5L88.7 387.0L88.8 386.4L88.8 384.7L88.9 384.7L88.9 384.3L89.0 382.5L89.1 382.9L89.1 382.1L89.2 380.4L89.2 380.7L89.3 379.7L89.3 379.5L89.4 378.2L89.5 378.3L89.5 377.8L89.6 376.0L89.6 375.7L89.7 376.1L90.2 374.7L90.7 375.0L91.2 374.6L91.4 374.4L91.6 375.2L91.8 376.0L92.0 376.2L92.2 377.0L92.4 377.8L92.6 379.0L92.7 379.3L92.8 380.2L92.9 380.3L93.0 381.1L93.1 382.5L93.2 381.8L93.3 383.5L93.4 384.5L93.5 384.4L93.6 385.0L93.7 386.6L93.8 386.2L94.0 386.7L94.1 387.7L94.4 388.4L94.7 389.6L95.1 389.1L95.4 390.1L95.8 390.5L96.1 391.7L96.4 391.4L97.1 391.2L97.6 391.4L98.2 390.7L98.4 390.5L98.7 391.5L98.9 392.9L99.1 394.1L99.3 393.9L99.6 394.3L100.0 393.8L100.4 393.3L100.9 393.6L101.3 392.3L101.8 392.1L102.0 392.1L102.3 391.5L102.5 389.6L102.8 388.9L103.1 389.0L103.3 387.9L103.6 387.6L103.8 386.3L104.1 385.6L104.3 386.3L104.4 386.1L104.6 387.4L104.7 387.0L104.8 387.7L104.9 388.5L105.0 389.3L105.2 390.1L105.3 391.9L105.4 391.3L105.5 391.9L105.6 394.3L105.7 394.9L105.8 395.7L106.0 395.2L106.1 396.4L106.2 395.8L106.4 396.5L106.6 394.9L106.8 395.1L107.0 394.5L107.2 393.2L107.4 392.0L107.6 390.7L107.8 389.9L108.0 389.1L108.2 388.5L108.4 389.2L108.5 389.5L108.6 389.3L108.7 390.8L108.8 390.0L108.9 392.2L109.0 392.6L109.1 393.8L109.2 394.5L109.3 395.4L109.4 395.6L109.5 395.4L109.6 397.5L109.7 397.2L109.8 398.0L109.9 399.1L110.0 399.2L110.1 399.4L110.3 399.3L110.4 400.0L110.6 398.8L110.8 397.6L111.0 396.6L111.2 396.9L111.3 395.3L111.5 395.1L111.8 393.7L112.0 393.6L112.5 392.7L113.1 393.3L113.8 394.0L114.4 393.2L115.0 394.3L115.3 395.2L115.6 396.1L115.9 396.6L116.2 397.3L116.5 396.5L116.8 398.3L117.1 399.1L117.4 398.7L117.8 397.8L118.3 397.6L118.8 396.9L119.2 396.7L119.7 395.9L120.1 395.8L120.5 395.9L120.8 396.9L121.2 396.2L121.5 396.9L121.9 397.6L122.3 398.7L123.0 398.2L123.7 398.1L124.4 399.6L125.2 398.7L125.7 399.4L126.3 398.1L126.8 399.0L127.4 398.8L128.1 398.9L128.8 399.4L129.3 399.2L129.9 399.9L130.5 399.9L131.2 399.6L131.9 399.4L132.5 399.9L133.3 399.8L134.0 400.2L134.7 400.1L135.3 400.2L135.9 399.9L136.5 399.5L137.2 399.5L137.9 399.5L138.5 399.5L139.2 399.5L139.8 399.0L140.4 399.2L141.0 398.9L141.5 398.7L142.0 398.7L142.8 398.6L143.3 398.8L143.7 399.2L144.2 399.1L145.0 399.4L145.5 399.6L146.0 399.5L146.5 399.4L147.1 399.8L147.7 400.0L148.4 399.6L149.0 400.0L149.7 400.1L150.5 400.5L151.2 400.7L152.0 400.4L152.5 400.4L153.1 400.8L153.7 400.8L154.4 400.4L155.0 400.6L155.7 400.4L156.4 401.0L157.1 400.9L157.8 401.2L158.5 401.1L159.2 401.1L159.8 401.2L160.4 401.1L161.0 400.8L161.6 401.3L162.1 400.8L162.5 401.3L163.4 401.2L163.9 401.9L164.1 401.6L164.4 401.8L165.0 402.0L166.0 402.5L166.4 402.8L166.9 402.3L167.4 402.2L168.0 402.9L168.6 402.3L169.2 402.9L169.9 402.8L170.5 402.9L171.2 403.0L171.9 402.7L172.6 402.9L173.3 402.3L174.0 402.9L174.7 402.7L175.4 402.9L176.0 402.4L176.7 402.9L177.2 403.1L177.8 402.5L178.3 402.9L179.1 402.9L179.8 403.3L180.5 403.7L181.2 403.4L181.8 403.6L182.4 403.9L182.9 404.4L183.4 404.8L183.9 404.7L184.4 404.9L184.9 405.0L185.3 405.2L186.2 405.1L187.0 405.0L187.6 404.5L188.2 404.6L188.8 404.6L189.3 405.2L189.8 405.0L190.2 405.6L190.7 405.5L191.4 406.3L192.3 406.4L192.8 406.7L193.3 406.6L193.9 406.5L194.6 406.5L195.3 406.6L196.0 406.8L196.8 406.2L197.5 406.2L198.2 406.7L198.9 406.8L199.5 406.6L200.1 406.6L200.6 406.9L201.1 406.9L201.7 407.1L202.2 407.7L202.6 408.4L202.8 409.4L203.1 409.9L203.3 410.5L203.5 411.3L203.7 411.3L204.0 411.5L204.2 410.3L204.3 409.8L204.5 408.7L204.9 408.3L205.4 407.5L205.8 407.5L206.3 407.2L206.9 407.2L207.4 407.1L208.1 407.6L208.7 407.6L209.4 407.6L210.1 407.9L210.9 408.0L211.6 408.2L212.2 408.5L212.7 408.0L213.4 408.7L214.0 408.3L214.7 408.4L215.3 408.3L216.0 408.7L216.7 408.7L217.3 408.5L218.0 408.5L218.6 408.7L219.2 408.9L219.8 408.5L220.3 408.7L221.0 409.0L221.6 409.4L222.2 409.2L222.7 409.2L223.2 409.4L223.7 410.0L224.3 410.2L224.9 410.6L225.6 410.4L226.1 410.8L226.7 410.3L227.3 410.4L227.9 410.5L228.6 410.4L229.2 410.9L229.9 411.0L230.6 411.0L231.2 410.7L231.9 411.1L232.5 410.8L233.2 410.9L233.7 411.1L234.3 411.0L235.0 410.8L235.7 410.9L236.4 411.5L237.0 411.3L237.7 411.5L238.3 411.7L238.9 411.8L239.4 411.5L240.0 411.7L240.5 411.7L241.1 411.5L241.7 411.2L242.2 410.7L242.8 410.5L243.3 410.3L243.8 409.6L244.3 409.4L244.9 409.2L245.5 408.9L246.1 409.0L246.8 409.3L247.4 409.0L248.1 409.6L248.8 409.7L249.4 409.3L250.1 409.6L250.8 409.8L251.5 409.4L252.2 409.6L252.9 409.4L253.5 409.1L254.2 409.2L254.8 409.2L255.4 409.2L256.1 409.6L256.6 409.7L257.1 410.4L257.6 410.9L258.2 411.1L258.9 411.3L259.4 411.4L260.0 411.2L260.6 411.4L261.2 411.3L261.8 411.5L262.5 411.4L263.1 411.3L263.8 411.1L264.4 411.4L265.0 411.3L265.6 411.4L266.1 411.3L266.5 411.8L266.9 411.8L267.4 411.6L267.9 412.2L268.6 411.9L269.4 412.1L270.5 412.2L270.9 412.3L271.4 412.3L271.8 412.2L272.3 412.3L272.8 412.2L273.4 412.1L273.9 412.0L274.5 411.9L275.1 412.3L275.7 412.3L276.3 412.2L276.9 412.3L277.5 412.0L278.2 411.9L278.8 412.0L279.5 412.2L280.2 411.7L280.9 412.0L281.5 411.8L282.2 412.1L282.9 411.8L283.6 411.7L284.3 411.7L284.9 411.8L285.6 411.9L286.3 411.7L286.9 411.6L287.4 411.8L288.0 411.4L288.6 411.4L289.2 411.3L289.8 411.3L290.4 411.6L291.0 411.5L291.6 411.2L292.2 411.1L292.8 411.2L293.5 411.4L294.1 411.4L294.7 411.3L295.4 411.1L296.0 410.8L296.6 410.9L297.3 410.7L297.9 410.9L298.5 410.9L299.1 410.6L299.8 410.6L300.4 410.9L301.0 410.4L301.6 410.8L302.2 410.8L302.7 410.8L303.3 410.4L303.9 410.5L304.4 410.5L305.0 410.5L305.5 410.4L306.2 410.7L306.9 410.5L307.7 410.2L308.4 410.5L309.1 410.3L309.8 410.3L310.5 410.4L311.1 409.9L311.8 410.4L312.5 410.3L313.1 410.2L313.7 410.2L314.4 410.2L315.0 410.0L315.6 410.2L316.1 409.9L316.7 410.2L317.2 410.3L317.7 410.2L318.2 410.3L318.7 410.6L319.2 410.6L319.6 410.4L320.5 410.3L321.3 410.9L321.9 411.1L322.3 411.0L322.7 411.5L323.1 411.6L323.6 411.8L324.1 412.2L324.8 412.2L325.3 412.4L325.9 412.0L326.5 412.2L327.1 412.0L327.8 411.5L328.4 411.8L329.1 411.5L329.8 411.5L330.4 411.2L331.1 411.0L331.8 410.6L332.4 410.8L333.0 410.7L333.6 410.4L334.3 410.5L334.9 410.2L335.5 410.4L336.1 410.2L336.7 410.0L337.3 409.9L337.9 410.0L338.5 410.1L339.1 410.1L339.8 410.3L340.6 410.3L341.1 410.4L341.7 410.4L342.2 410.3L342.8 410.5L343.4 410.3L344.0 410.4L344.7 410.6L345.3 410.4L346.0 410.3L346.6 410.8L347.3 410.7L347.9 410.5L348.6 410.6L349.2 410.7L349.8 410.8L350.5 410.6L351.1 410.8L351.7 410.6L352.4 410.7L353.0 411.2L353.7 410.9L354.3 411.1L355.0 411.1L355.6 411.2L356.3 411.2L356.9 411.5L357.6 411.4L358.2 411.4L358.8 411.5L359.4 411.6L360.0 411.9L360.6 411.6L361.1 411.6L361.6 411.9L362.4 411.8L363.2 411.7L363.9 411.7L364.5 411.2L365.1 411.2L365.7 411.0L366.3 410.6L366.9 410.9L367.4 410.3L368.0 410.3L368.7 409.9L369.3 409.9L370.0 409.5L370.6 409.6L371.2 409.2L371.8 408.9L372.4 408.7L373.0 408.9L373.6 409.0L374.2 408.7L374.8 408.9L375.3 408.7L375.9 409.1L376.6 408.7L377.3 408.8L378.0 409.0L378.5 408.9L379.1 409.4L379.7 409.4L380.2 409.4L380.8 409.4L381.5 409.9L382.1 410.2L382.8 410.1L383.4 409.9L384.1 410.0L384.8 410.2L385.5 410.5L386.1 410.3L386.6 410.3L387.2 410.3L387.7 410.7L388.3 410.9L388.9 410.4L389.5 410.9L390.1 410.6L390.7 410.8L391.4 410.8L392.0 410.9L392.7 410.3L393.4 410.5L394.2 410.7L395.0 410.6L395.5 410.9L396.0 410.4L396.5 410.5L397.1 410.9L397.6 410.4L398.2 410.6L398.7 410.6L399.3 410.8L399.9 411.0L400.5 410.5L401.1 410.9L401.7 410.9L402.3 411.0L402.9 410.8L403.5 411.1L404.2 410.8L404.8 410.8L405.5 410.7L406.1 411.1L406.7 410.9L407.4 410.8L408.0 410.8L408.7 411.1L409.3 411.0L410.0 411.0L410.6 411.1L411.2 411.0L411.8 411.0L412.4 410.8L413.0 411.2L413.6 410.8L414.3 411.1L414.9 411.2L415.6 411.2L416.2 410.9L416.9 411.0L417.5 411.3L418.2 411.2L418.9 411.4L419.5 411.4L420.2 411.1L420.8 411.4L421.5 411.3L422.1 411.1L422.7 411.1L423.3 410.9L423.9 411.1L424.5 411.5L425.1 411.0L425.6 411.3L426.1 411.0L426.6 411.0L427.1 411.4L427.6 411.3L428.5 411.2L429.3 411.1L430.1 411.2L430.7 411.5L431.4 411.5L431.9 411.2L432.5 411.4L433.0 411.9L433.6 411.5L434.1 411.8L434.6 411.7L435.1 412.0L435.7 411.9L436.3 411.9L436.9 412.1L437.6 412.0L438.2 411.8L438.8 411.9L439.4 411.8L440.1 412.3L440.7 411.9L441.3 411.9L442.0 412.5L442.6 412.1L443.2 412.5L443.8 412.1L444.5 412.3L445.1 412.4L445.7 412.2L446.4 412.7L447.0 412.6L447.6 412.7L448.3 412.8L448.9 412.9L449.6 412.6L450.2 412.8L450.8 412.7L451.4 412.5L452.0 413.1L452.6 413.0L453.2 413.2L453.8 413.0L454.5 412.9L455.2 413.2L455.9 413.3L456.6 413.6L457.3 413.3L458.0 413.6L458.6 413.8L459.2 413.6L459.8 414.0L460.3 414.2L460.8 414.0L461.6 413.8L462.1 413.7L462.6 413.3L463.1 412.6L463.6 412.5L464.3 412.5L464.8 412.9L465.4 412.6L466.0 412.8L466.7 412.8L467.4 413.1L468.0 413.3L468.7 414.1L469.4 414.3L470.0 414.6L470.5 414.6L471.2 415.3L471.8 415.5L472.4 416.1L473.0 416.3L473.5 416.5L474.0 417.1L474.5 416.9L475.1 417.0L475.6 416.7L476.0 415.9L476.5 415.6L477.0 414.9L477.5 414.6L478.2 414.7L479.0 414.4L479.7 413.9L480.4 414.2L481.0 413.9L481.8 413.7L482.6 414.4L483.1 414.3L483.7 415.0L484.3 415.0L484.9 415.5L485.5 416.1L486.1 416.6L486.4 416.7L486.6 417.7L486.9 417.9L487.1 418.6L487.4 419.1L487.6 420.0L487.9 420.7L488.1 420.9L488.3 421.4L488.5 422.1L488.7 422.7L489.0 423.5L489.3 424.1L489.6 425.0L489.9 426.1L490.1 426.5L490.4 426.5L490.7 426.7L490.9 426.3L491.2 425.6L491.5 424.4L491.8 423.4L492.1 422.7L492.3 422.1L492.5 421.6L492.7 421.0L492.9 420.3L493.1 419.5L493.3 419.1L493.6 418.0L493.8 417.5L494.0 417.1L494.3 416.5L494.5 415.7L494.7 415.4L495.3 414.5L495.9 414.6L496.6 414.0L497.3 414.4L497.8 414.2L498.4 414.5L499.1 414.7L499.7 414.7L500.3 415.0L500.8 415.8L501.1 416.0L501.3 417.0L501.6 417.5L501.8 418.5L502.0 419.1L502.2 420.0L502.4 420.0L502.6 420.7L502.8 421.1L503.0 421.8L503.7 421.7L504.4 420.9L505.1 421.0L505.3 421.0L505.6 421.8L505.8 422.0L506.1 422.8L506.3 423.4L506.6 424.5L506.9 424.9L507.1 425.5L507.4 426.0L507.7 427.0L508.0 427.5L508.3 428.1L508.5 428.6L508.8 429.2L509.2 429.6L509.5 429.7L509.8 430.2L510.0 431.2L510.3 431.8L510.6 432.3L510.8 433.1L510.9 433.8L511.0 434.1L511.1 434.4L511.2 434.9L511.3 435.4L511.4 436.4L511.5 437.2L511.6 437.8L511.7 438.2L511.8 438.9L511.8 439.8L511.9 440.4L512.0 440.9L512.1 441.4L512.1 442.1L512.2 442.5L512.3 443.2L512.4 444.1L512.4 445.0L512.5 445.2L512.6 445.9L512.7 446.5L512.7 447.1L512.8 447.9L512.9 448.9L512.9 449.3L513.0 450.4L513.0 450.6L513.1 451.4L513.2 452.2L513.2 452.8L513.3 453.7L513.3 454.3L513.4 454.9L513.5 455.2L513.5 455.3L513.6 456.1L513.7 456.4L514.3 457.5L514.9 457.3L515.5 457.3L515.9 457.5L516.3 457.9L516.7 458.4L517.2 459.0L517.4 459.4L517.7 460.2L517.9 461.0L518.2 461.8L518.4 462.7L518.7 463.5L518.9 463.9L519.2 464.1L519.4 464.2L519.5 464.1L519.7 463.7L519.8 463.4L519.9 463.0L520.1 462.4L520.2 461.8L520.3 461.3L520.5 460.6L520.6 459.7L520.7 458.9L520.8 458.1L521.0 457.2L521.1 456.4L521.2 455.6L521.3 455.2L521.3 454.5L521.4 454.0L521.5 453.5L521.5 452.9L521.6 452.4L521.7 451.9L521.7 451.3L521.8 450.7L521.9 450.1L521.9 449.3L522.0 448.7L522.1 448.2L522.1 447.4L522.2 446.8L522.3 446.2L522.3 445.5L522.4 444.9L522.4 444.2L522.5 443.6L522.6 443.1L522.6 442.3L522.7 441.9L522.8 441.1L522.8 440.7L522.9 440.0L523.0 439.4L523.0 438.7L523.1 437.9L523.2 437.2L523.3 436.7L523.4 435.9L523.4 435.2L523.5 434.6L523.6 433.9L523.7 433.1L523.7 432.6L523.8 431.8L523.9 431.1L524.0 430.5L524.0 429.9L524.1 429.5L524.2 428.7L524.3 428.2L524.3 427.7L524.4 427.2L524.5 426.8L524.5 426.6L524.6 426.1L525.2 424.3L525.8 424.8L526.1 425.4L526.4 426.6L526.7 427.6L527.1 427.5L527.2 427.3L527.3 426.7L527.5 426.2L527.6 425.7L527.7 424.9L527.9 424.2L528.0 423.3L528.1 422.5L528.3 421.8L528.4 421.2L528.6 420.6L528.8 420.1L529.2 419.4L529.7 418.8L530.2 418.4L530.7 418.0L531.1 417.8L531.6 417.5L532.2 417.2L532.8 416.7L533.4 416.7L534.0 416.6L534.6 416.7L535.3 416.8L535.9 416.8L536.6 417.3L537.1 417.8L537.3 418.2L537.5 418.4L537.7 418.8L537.9 419.2L538.0 419.6L538.2 420.4L538.3 420.8L538.4 421.6L538.6 422.3L538.7 423.2L538.8 424.4L538.8 424.9L538.9 425.4L538.9 425.9L539.0 426.3L539.0 426.8L539.0 427.5L539.1 427.9L539.1 428.6L539.1 429.2L539.1 429.8L539.2 430.5L539.2 431.1L539.2 431.8L539.3 432.5L539.3 433.2L539.3 433.9L539.3 434.6L539.4 435.4L539.4 436.1L539.4 436.7L539.4 437.4L539.5 438.0L539.5 438.8L539.5 439.3L539.5 439.9L539.6 440.6L539.6 441.2L539.6 441.7L539.6 442.4L539.7 442.8L539.7 443.4L539.7 444.3L539.8 445.0L539.8 445.8L539.9 446.6L539.9 447.5L540.0 448.3L540.0 448.9L540.0 449.7L540.1 450.5L540.1 451.0L540.2 451.8L540.2 452.5L540.3 453.1L540.3 453.5L540.4 454.1L540.4 454.5L540.4 455.0L540.5 455.2L540.5 455.4L540.6 455.6L540.7 455.7L540.8 455.8L540.9 455.4L541.0 455.1L541.1 454.4L541.3 453.6L541.4 452.8L541.5 451.9L541.6 450.8L541.7 449.7L541.8 448.6L541.8 448.2L541.9 447.8L541.9 447.2L541.9 446.6L541.9 446.1L542.0 445.6L542.0 445.1L542.0 444.4L542.0 443.7L542.1 443.2L542.1 442.5L542.1 441.8L542.1 441.3L542.1 440.7L542.2 439.9L542.2 439.3L542.2 438.6L542.2 438.0L542.2 437.3L542.3 436.5L542.3 435.9L542.3 435.1L542.3 434.6L542.4 433.8L542.4 433.2L542.4 432.6L542.5 431.9L542.5 431.2L542.5 430.8L542.6 430.2L542.6 429.6L542.7 428.8L542.7 428.1L542.8 427.4L542.8 426.6L542.9 426.1L542.9 425.3L543.0 424.6L543.1 423.9L543.1 423.3L543.2 422.6L543.3 421.9L543.4 421.3L543.4 420.6L543.5 419.9L543.6 419.5L543.7 418.8L543.7 418.1L543.8 417.6L543.9 417.2L544.0 416.7L544.1 416.0L544.2 415.6L544.3 415.3L544.4 414.9L544.8 413.8L545.1 413.3L545.5 412.9L546.0 412.5L546.4 412.4L546.9 412.3L547.5 412.0L548.0 411.8L548.5 411.4L549.1 411.3L549.7 411.0L550.3 410.9L550.9 410.6L551.5 410.6L552.1 410.4L552.7 410.2L553.4 410.1L554.0 409.8L554.7 409.8L555.4 409.7L556.1 409.7L556.7 409.6L557.3 409.4L557.9 409.4L558.7 409.3L559.5 409.0L560.1 408.7L560.8 408.6L561.3 408.8L561.7 408.9L562.0 409.2L562.3 409.3L562.6 410.0L562.8 410.9L563.0 412.3L563.0 412.7L563.1 413.2L563.1 413.7L563.2 414.2L563.2 414.7L563.2 415.2L563.3 415.8L563.3 416.5L563.3 417.1L563.4 417.8L563.4 418.6L563.4 419.2L563.5 420.0L563.5 420.8L563.5 421.3L563.6 422.2L563.6 422.8L563.6 423.5L563.6 424.2L563.7 424.8L563.7 425.6L563.7 426.2L563.7 427.0L563.8 427.6L563.8 428.0L563.8 428.6L563.9 429.1L563.9 429.6L564.0 430.5L564.0 431.5L564.1 432.4L564.2 433.4L564.2 434.1L564.3 434.8L564.4 435.6L564.4 436.2L564.5 436.7L564.6 437.0L564.6 437.4L564.7 437.4L564.8 437.4L564.9 437.3L564.9 437.0L565.0 436.6L565.0 436.3L565.1 435.7L565.2 435.1L565.2 434.5L565.3 433.8L565.4 433.0L565.4 432.2L565.5 431.6L565.6 430.8L565.6 429.9L565.7 429.1L565.8 428.2L565.9 427.6L565.9 426.8L566.0 426.1L566.1 425.4L566.1 425.0L566.2 424.4L566.3 423.5L566.3 423.0L566.4 422.2L566.5 421.4L566.5 420.8L566.6 420.0L566.7 419.4L566.7 418.7L566.8 417.9L566.9 417.3L566.9 416.8L567.0 416.1L567.1 415.5L567.1 415.0L567.2 414.4L567.3 414.0L567.3 413.6L567.4 413.2L568.0 411.2L568.6 412.3L568.6 412.5L568.7 412.8L568.7 413.3L568.8 413.6L568.8 413.9L568.8 414.4L568.9 414.8L568.9 415.2L568.9 415.8L569.0 416.2L569.0 416.8L569.0 417.2L569.1 417.8L569.1 418.6L569.1 419.2L569.2 419.9L569.2 420.6L569.2 421.5L569.3 422.2L569.3 423.2L569.3 424.1L569.4 425.0L569.4 426.1L569.4 426.4L569.4 427.0L569.4 427.4L569.5 428.0L569.5 428.3L569.5 428.9L569.5 429.3L569.5 429.9L569.5 430.5L569.6 430.9L569.6 431.5L569.6 432.1L569.6 432.6L569.6 433.3L569.6 433.8L569.6 434.4L569.7 435.1L569.7 435.8L569.7 436.4L569.7 436.9L569.7 437.6L569.7 438.1L569.8 438.8L569.8 439.5L569.8 440.3L569.8 440.7L569.8 441.6L569.8 442.1L569.9 442.8L569.9 443.4L569.9 444.3L569.9 444.7L569.9 445.5L569.9 446.2L569.9 446.8L570.0 447.4L570.0 448.3L570.0 448.9L570.0 449.6L570.0 450.3L570.0 450.7L570.1 451.5L570.1 452.2L570.1 452.7L570.1 453.4L570.1 454.2L570.1 454.7L570.2 455.4L570.2 455.9L570.2 456.6L570.2 457.2L570.2 457.8L570.2 458.4L570.3 459.1L570.3 459.6L570.3 460.1L570.3 460.7L570.3 461.4L570.3 462.1L570.4 462.9L570.4 463.4L570.4 464.2L570.4 465.0L570.4 465.7L570.5 466.4L570.5 467.1L570.5 468.0L570.5 468.7L570.5 469.6L570.6 470.3L570.6 471.2L570.6 471.9L570.6 472.7L570.6 473.3L570.6 474.0L570.7 474.9L570.7 475.7L570.7 476.5L570.7 477.0L570.7 477.7L570.8 478.7L570.8 479.3L570.8 479.9L570.8 480.7L570.8 481.2L570.9 481.9L570.9 482.6L570.9 483.2L570.9 483.6L570.9 484.2L571.0 484.8L571.0 485.4L571.0 485.7L571.0 486.2L571.0 486.6L571.1 487.2L571.1 487.5L571.1 487.9L571.1 488.3L571.1 488.5L571.1 488.7L571.2 489.0L571.2 489.0L571.2 489.3L571.2 489.4L571.3 489.6L571.3 489.5L571.3 489.4L571.4 489.4L571.4 489.1L571.4 488.9L571.4 488.4L571.5 488.1L571.5 487.5L571.5 487.1L571.6 486.4L571.6 485.8L571.6 485.0L571.6 484.2L571.7 483.5L571.7 482.7L571.7 481.7L571.8 480.8L571.8 479.9L571.8 478.9L571.8 478.0L571.9 477.0L571.9 476.0L571.9 475.0L572.0 473.9L572.0 472.9L572.0 472.4L572.0 471.9L572.0 471.5L572.1 471.0L572.1 470.6L572.1 470.0L572.1 469.6L572.1 469.1L572.1 468.5L572.1 468.0L572.1 467.4L572.2 466.8L572.2 466.2L572.2 465.5L572.2 465.1L572.2 464.4L572.2 463.7L572.2 463.2L572.2 462.5L572.2 461.9L572.3 461.2L572.3 460.4L572.3 460.0L572.3 459.1L572.3 458.5L572.3 458.0L572.3 457.1L572.3 456.5L572.4 455.8L572.4 455.1L572.4 454.5L572.4 453.7L572.4 452.9L572.4 452.4L572.4 451.6L572.5 451.0L572.5 450.4L572.5 449.7L572.5 448.8L572.5 448.3L572.5 447.5L572.5 446.9L572.5 446.2L572.6 445.5L572.6 444.8L572.6 444.3L572.6 443.5L572.6 443.1L572.6 442.2L572.6 441.8L572.7 441.0L572.7 440.4L572.7 439.9L572.7 439.3L572.7 438.8L572.7 438.1L572.8 437.6L572.8 436.9L572.8 436.5L572.8 436.0L572.8 435.6L572.8 434.8L572.8 434.4L572.9 434.0L572.9 433.6L572.9 433.1L572.9 432.1L573.0 431.2L573.0 430.3L573.1 429.3L573.1 428.5L573.1 427.8L573.2 426.9L573.2 426.2L573.3 425.6L573.3 424.9L573.4 424.3L573.4 423.6L573.5 423.0L573.5 422.5L573.6 422.0L573.6 421.5L573.7 420.9L573.7 420.4L573.8 419.9L573.8 419.4L573.9 418.9L573.9 418.6L574.0 418.1L574.0 417.6L574.1 417.1L574.2 416.6L574.2 416.2L574.3 415.8L574.4 415.0L574.6 414.1L574.7 413.5L574.9 412.8L575.0 412.1L575.2 411.5L575.3 410.8L575.5 410.5L575.7 409.9L575.8 409.4L576.0 409.0L576.2 408.4L576.4 407.9L576.5 407.5L576.7 407.1L577.0 406.3L577.3 405.8L577.6 405.2L577.9 404.6L578.2 404.0L578.5 403.7L578.8 403.2L579.2 402.8L579.5 402.4L580.0 401.9L580.6 401.4L581.2 401.0L581.8 400.7L582.4 400.6L583.0 400.4L583.6 400.4L584.2 400.5L584.8 400.5L585.4 400.8L586.0 401.0L586.6 401.2L587.1 401.4L587.7 401.8L588.3 401.9L588.8 402.4L589.4 402.8L590.0 403.3L590.3 403.6L590.7 404.0L591.1 404.5L591.5 404.7L591.9 405.3L592.3 405.8L592.7 406.2L593.1 406.7L593.5 407.3L593.8 408.1L594.0 408.6L594.2 409.0L594.4 409.4L594.5 409.9L594.7 410.5L594.9 410.8L595.0 411.3L595.2 412.1L595.4 412.5L595.5 413.1L595.7 413.9L595.8 414.4L595.9 415.1L596.1 416.0L596.2 416.7L596.3 417.6L596.4 418.0L596.4 418.7L596.5 419.0L596.5 419.7L596.6 420.1L596.6 420.7L596.7 421.3L596.7 421.9L596.8 422.5L596.8 423.1L596.8 423.8L596.9 424.4L596.9 425.2L597.0 425.9L597.0 426.5L597.0 427.2L597.1 427.6L597.1 428.4L597.2 429.0L597.2 429.7L597.2 430.5L597.3 431.2L597.3 431.8L597.3 432.4L597.4 432.9L597.4 433.6L597.4 434.2L597.5 435.0L597.5 435.4L597.6 436.0L597.6 436.6L597.7 437.4L597.7 437.9L597.8 438.9L597.8 439.5L597.9 440.3L597.9 441.0L598.0 441.9L598.0 442.6L598.1 443.3L598.1 444.2L598.2 444.9L598.2 445.6L598.3 446.2L598.3 447.0L598.4 447.6L598.4 448.4L598.5 448.9L598.5 449.4L598.6 449.9L598.6 450.3L598.7 450.8L598.7 451.2L598.8 451.4L598.8 451.6L598.9 451.8L599.0 451.9L599.1 451.9L599.1 451.8L599.2 451.4L599.3 451.0L599.4 450.4L599.5 449.7L599.5 449.0L599.6 448.3L599.7 447.4L599.8 446.4L599.9 445.5L599.9 444.5L600.0 443.3L600.1 442.3L600.1 441.8L600.2 441.4L600.2 440.8L600.2 440.4L600.3 439.8L600.3 439.3L600.3 438.7L600.4 438.1L600.4 437.6L600.4 436.8L600.5 436.4L600.5 435.5L600.5 435.0L600.5 434.2L600.6 433.7L600.6 432.9L600.6 432.1L600.7 431.5L600.7 430.9L600.7 430.2L600.8 429.6L600.8 428.9L600.8 428.0L600.9 427.4L600.9 426.7L600.9 426.2L601.0 425.4L601.0 424.9L601.0 424.3L601.1 423.7L601.1 423.1L601.2 422.5L601.2 421.9L601.2 421.3L601.3 421.0L601.3 420.3L601.4 419.8L601.4 419.5L601.5 418.5L601.6 417.4L601.8 416.6L601.9 415.7L602.1 415.0L602.2 414.5L602.3 413.8L602.5 413.4L602.6 413.0L602.8 412.4L602.9 412.1L603.0 411.7L603.2 411.3L603.3 410.9L603.8 409.6L604.2 409.0L604.7 409.0L604.9 409.2L605.2 409.9L605.5 410.8L605.7 411.8L606.0 412.3L606.3 412.8L606.6 412.8L606.7 412.5L606.9 412.3L607.0 411.7L607.1 411.1L607.3 410.4L607.4 409.6L607.5 409.0L607.7 408.2L607.8 407.5L608.0 406.7L608.2 406.1L608.4 405.5L608.7 405.2L609.2 404.9L609.7 404.5L610.3 404.3L610.9 404.3L611.6 404.4L612.3 404.3L613.0 404.3L613.8 404.3L614.3 404.3L614.9 404.3L615.5 404.1L616.1 404.0L616.8 404.2L617.4 404.1L618.1 404.1L618.8 404.0L619.4 404.1L620.1 404.0L620.8 403.9L621.4 403.9L622.0 403.8L622.7 403.8L623.3 403.8L624.0 403.7L624.6 403.7L625.3 403.6L625.9 403.5L626.5 403.5L627.2 403.4L627.8 403.4L628.4 403.3L629.0 403.3L629.7 403.3L630.3 403.2L631.0 403.2L631.6 403.0L632.3 403.1L632.9 403.0L633.5 403.1L634.1 402.9L634.7 403.1L635.2 403.1L635.7 403.3L636.3 403.6L636.9 403.7L637.4 404.0L637.9 404.3L638.3 404.9L638.8 405.5L639.1 406.1L639.5 407.1L639.6 407.4L639.8 407.9L639.9 408.5L640.0 408.8L640.1 409.3L640.2 409.7L640.3 410.3L640.4 410.8L640.5 411.3L640.6 411.8L640.7 412.5L640.8 413.1L640.9 413.7L641.0 414.5L641.0 415.2L641.1 415.9L641.2 416.8L641.3 417.7L641.3 418.5L641.4 419.5L641.4 420.0L641.5 420.4L641.5 420.9L641.5 421.3L641.6 421.9L641.6 422.4L641.6 422.9L641.6 423.4L641.7 423.9L641.7 424.4L641.7 425.0L641.8 425.6L641.8 426.3L641.8 426.9L641.8 427.4L641.9 428.1L641.9 428.7L641.9 429.2L641.9 430.0L641.9 430.5L642.0 431.3L642.0 431.7L642.0 432.4L642.0 433.0L642.1 433.8L642.1 434.4L642.1 435.0L642.1 435.6L642.1 436.3L642.1 437.0L642.2 437.6L642.2 438.4L642.2 439.1L642.2 439.7L642.2 440.3L642.3 441.0L642.3 441.7L642.3 442.2L642.3 442.9L642.3 443.5L642.3 444.1L642.4 444.9L642.4 445.4L642.4 446.1L642.4 446.8L642.4 447.3L642.4 448.1L642.5 448.7L642.5 449.4L642.5 450.1L642.5 450.6L642.5 451.4L642.5 452.2L642.5 453.0L642.5 453.8L642.5 454.6L642.5 455.3L642.6 456.2L642.6 456.9L642.6 457.6L642.6 458.4L642.6 459.3L642.6 460.1L642.6 460.8L642.6 461.6L642.6 462.4L642.6 463.1L642.6 464.0L642.6 464.5L642.6 465.4L642.7 466.0L642.7 466.7L642.7 467.4L642.7 468.1L642.7 468.8L642.7 469.4L642.7 469.9L642.7 470.6L642.7 471.1L642.7 471.4L642.7 472.1L642.8 472.5L642.8 472.9L642.8 473.3L642.8 473.5L642.8 473.8L642.8 474.1L642.8 474.2L642.9 474.5L642.9 474.6L642.9 474.7L642.9 474.8L643.0 474.7L643.0 474.6L643.0 474.6L643.0 474.4L643.1 474.0L643.1 473.8L643.1 473.4L643.2 473.1L643.2 472.6L643.2 472.1L643.3 471.7L643.3 471.1L643.4 470.5L643.4 469.8L643.4 469.1L643.5 468.5L643.5 467.9L643.6 467.1L643.6 466.2L643.6 465.6L643.7 464.8L643.7 463.9L643.8 463.2L643.8 462.3L643.8 461.5L643.9 460.7L643.9 459.9L644.0 458.9L644.0 458.2L644.0 457.4L644.1 456.5L644.1 455.7L644.2 454.9L644.2 454.0L644.2 453.4L644.3 452.6L644.3 451.8L644.3 451.3L644.4 450.7L644.4 450.2L644.4 449.5L644.4 449.0L644.5 448.4L644.5 448.0L644.5 447.3L644.5 446.6L644.5 446.1L644.6 445.3L644.6 444.7L644.6 444.0L644.6 443.5L644.7 442.8L644.7 442.2L644.7 441.3L644.7 440.8L644.8 440.0L644.8 439.4L644.8 438.7L644.8 438.0L644.9 437.4L644.9 436.8L644.9 436.0L644.9 435.3L645.0 434.7L645.0 433.9L645.0 433.4L645.0 432.6L645.1 431.9L645.1 431.4L645.1 430.5L645.1 429.9L645.1 429.4L645.2 428.6L645.2 428.1L645.2 427.5L645.2 426.9L645.3 426.2L645.3 425.7L645.3 425.1L645.3 424.5L645.4 424.0L645.4 423.3L645.4 422.8L645.4 422.4L645.5 421.9L645.5 421.2L645.5 420.8L645.5 420.3L645.6 420.0L645.6 419.5L645.7 418.3L645.7 417.3L645.8 416.5L645.9 415.5L645.9 414.9L646.0 414.0L646.1 413.4L646.1 412.8L646.2 412.0L646.2 411.6L646.3 411.0L646.4 410.4L646.5 409.9L646.5 409.6L646.6 409.1L646.7 408.7L646.8 408.4L646.9 407.8L647.0 407.5L647.1 407.1L647.4 406.0L647.8 405.3L648.3 404.8L648.7 404.3L649.2 403.8L649.6 403.6L650.0 403.3L650.6 402.6L651.2 401.7L651.8 401.7L652.3 402.4L652.4 402.6L652.5 403.1L652.5 403.5L652.6 404.0L652.7 404.3L652.8 404.7L652.8 405.3L652.9 406.0L653.0 406.4L653.0 407.1L653.1 407.9L653.2 408.6L653.2 409.2L653.3 409.9L653.4 410.6L653.4 411.4L653.5 412.1L653.5 412.8L653.6 413.5L653.7 414.1L653.7 414.9L653.8 415.7L653.8 416.2L653.9 416.8L653.9 417.4L654.0 418.2L654.0 418.8L654.1 419.5L654.1 420.3L654.2 420.9L654.2 421.8L654.3 422.6L654.3 423.2L654.4 423.9L654.4 424.9L654.5 425.7L654.5 426.4L654.6 427.1L654.6 427.9L654.7 428.5L654.7 429.2L654.8 430.0L654.8 430.7L654.9 431.1L654.9 431.9L655.0 432.2L655.0 433.0L655.1 433.2L655.1 433.8L655.2 434.1L655.2 434.4L655.3 434.5L655.3 434.7L655.4 434.9L655.4 434.8L655.5 434.8L655.6 434.4L655.6 434.3L655.7 433.8L655.8 433.2L655.8 432.8L655.9 432.0L656.0 431.3L656.0 430.5L656.1 429.7L656.2 428.9L656.2 428.1L656.3 427.2L656.4 426.2L656.4 425.3L656.5 424.3L656.6 423.3L656.6 422.9L656.7 422.3L656.7 421.8L656.8 421.2L656.8 420.8L656.8 420.1L656.9 419.7L656.9 418.9L657.0 418.4L657.0 417.7L657.1 417.1L657.1 416.3L657.2 415.6L657.2 415.1L657.3 414.3L657.3 413.7L657.4 413.0L657.4 412.2L657.5 411.6L657.5 410.8L657.6 410.2L657.6 409.4L657.7 408.7L657.7 408.0L657.8 407.2L657.8 406.6L657.9 405.9L657.9 405.3L657.9 404.7L658.0 404.1L658.0 403.5L658.1 402.9L658.1 402.1L658.2 401.7L658.2 401.2L658.3 400.7L658.3 400.0L658.4 399.6L658.4 399.4L658.5 398.8L658.5 398.5L658.8 396.7L659.0 395.7L659.2 395.2L659.5 395.1L659.8 395.0L660.1 394.7L660.5 394.3L661.0 393.8L661.5 393.5L662.0 393.0L662.5 392.7L662.9 392.0L663.1 391.5L663.4 390.8L663.6 390.0L663.8 389.0L664.0 388.4L664.2 387.6L664.3 386.9L664.5 386.5L664.7 386.4L664.9 386.5L665.1 387.2L665.3 388.2L665.4 389.2L665.6 390.3L665.8 391.1L666.0 391.8L666.1 392.1L666.3 392.0L666.4 391.8L666.4 391.5L666.5 391.0L666.6 390.7L666.6 390.2L666.7 389.5L666.7 389.0L666.8 388.2L666.9 387.7L666.9 386.9L667.0 386.1L667.0 385.5L667.1 384.7L667.2 384.0L667.2 383.2L667.3 382.5L667.3 381.8L667.4 380.9L667.5 380.2L667.5 379.8L667.6 379.1L667.6 378.5L667.7 378.1L667.8 377.1L667.9 376.4L668.0 375.4L668.2 374.7L668.3 374.1L668.4 373.3L668.5 372.8L668.6 372.4L668.8 371.9L668.9 371.5L669.1 371.2L669.6 371.1L670.2 371.5L670.8 372.3L671.4 372.8L671.9 372.6L672.1 372.3L672.2 371.9L672.4 371.5L672.5 370.9L672.6 370.4L672.7 369.8L672.8 368.9L672.9 368.2L673.0 367.5L673.1 366.5L673.2 365.7L673.3 365.3L673.3 364.6L673.4 363.9L673.5 363.4L673.5 362.6L673.6 362.1L673.7 361.3L673.7 360.7L673.8 360.0L673.9 359.1L673.9 358.4L674.0 357.6L674.1 357.1L674.2 356.3L674.2 355.6L674.3 355.0L674.4 354.7L674.4 354.0L674.5 353.6L674.6 353.2L675.0 351.8L675.5 351.2L675.9 351.1L676.3 351.1L676.7 352.0L677.1 353.2L677.4 353.2L677.5 352.9L677.5 352.6L677.6 352.0L677.7 351.4L677.7 351.0L677.8 350.2L677.9 349.6L678.0 348.9L678.0 348.1L678.1 347.3L678.2 346.5L678.2 346.0L678.3 345.2L678.4 344.6L678.4 343.9L678.5 343.5L678.6 342.6L678.7 342.0L678.9 341.1L679.0 340.5L679.1 339.9L679.2 339.3L679.3 338.8L679.4 338.3L679.5 338.0" stroke="#000"/>
</g>
<rect x="50.8" y="2.0" width="632.0" height="502.7" fill="none" stroke="#000" stroke-width="1.90"/>
<text x="136.0" y="530" font-size="19.5" text-anchor="middle" font-family="Liberation Sans, sans-serif" stroke="#000" stroke-width="0.55">3500</text>
<text x="228.4" y="530" font-size="19.5" text-anchor="middle" font-family="Liberation Sans, sans-serif" stroke="#000" stroke-width="0.55">3000</text>
<text x="320.8" y="530" font-size="19.5" text-anchor="middle" font-family="Liberation Sans, sans-serif" stroke="#000" stroke-width="0.55">2500</text>
<text x="413.3" y="530" font-size="19.5" text-anchor="middle" font-family="Liberation Sans, sans-serif" stroke="#000" stroke-width="0.55">2000</text>
<text x="494.84" y="530" font-size="19.5" font-family="Liberation Sans, sans-serif" stroke="#000" stroke-width="0.55">500</text>
<path d="M488.85 515.9L491.15 515.9L491.15 529.6L488.85 529.6L488.85 519.6Q487.40 520.7 485.90 521.1L485.90 519.1Q487.70 518.4 488.85 515.9Z" fill="#000"/>
<text x="587.26" y="530" font-size="19.5" font-family="Liberation Sans, sans-serif" stroke="#000" stroke-width="0.55">000</text>
<path d="M580.85 515.9L583.15 515.9L583.15 529.6L580.85 529.6L580.85 519.6Q579.40 520.7 577.90 521.1L577.90 519.1Q579.70 518.4 580.85 515.9Z" fill="#000"/>
<text x="86.7" y="35" font-size="24.3" font-family="Liberation Sans, sans-serif" stroke="#000" stroke-width="0.55">ZIF-8@Biochar</text>
<text x="88.9" y="186.5" font-size="24.3" font-family="Liberation Sans, sans-serif" stroke="#000" stroke-width="0.55">Biochar</text>
<text x="92.2" y="370" font-size="24.3" font-family="Liberation Sans, sans-serif" stroke="#000" stroke-width="0.55">ZIF-8</text>
<text x="261.6" y="571.5" font-size="24" font-family="Liberation Sans, sans-serif" stroke="#000" stroke-width="0.75">Wavenumber (cm</text>
<text x="465.4" y="571.5" font-size="24" font-family="Liberation Sans, sans-serif" stroke="#000" stroke-width="0.75">)</text>
<path d="M451.2 556.6H455.9" stroke="#000" stroke-width="1.3" fill="none"/>
<path d="M460.65 549.9V559.9" stroke="#000" stroke-width="2.0" fill="none"/>
<path d="M460.4 550.3L457.3 553.2" stroke="#000" stroke-width="1.7" fill="none" stroke-linecap="round"/>
<text transform="translate(18.6 262) rotate(-90)" font-size="24" text-anchor="middle" font-family="Liberation Sans, sans-serif" stroke="#000" stroke-width="0.75">T(%)</text></svg>
</body></html>
